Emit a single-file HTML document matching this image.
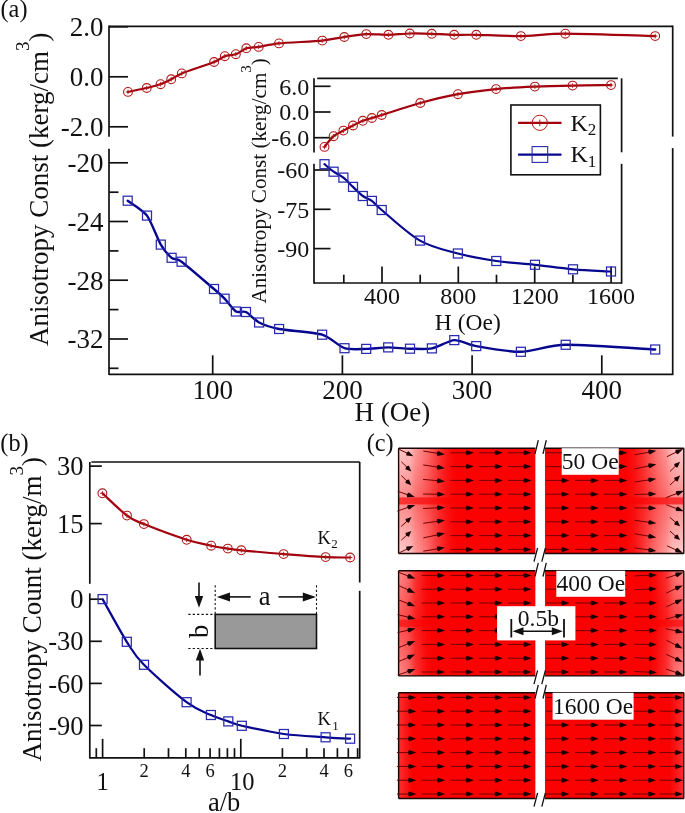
<!DOCTYPE html>
<html><head><meta charset="utf-8"><style>
html,body{margin:0;padding:0;background:#fff;}
svg{display:block;will-change:transform;}
text{font-family:"Liberation Serif", serif; fill:#111;}
</style></head><body>
<svg width="685" height="813" viewBox="0 0 685 813">
<rect width="685" height="813" fill="#fff"/>
<line x1="109.0" y1="25.5" x2="109.0" y2="136.7" stroke="#111" stroke-width="1.70"/>
<line x1="109.0" y1="148.7" x2="109.0" y2="375.1" stroke="#111" stroke-width="1.70"/>
<line x1="672.7" y1="25.5" x2="672.7" y2="136.6" stroke="#111" stroke-width="1.70"/>
<line x1="672.7" y1="148.1" x2="672.7" y2="375.1" stroke="#111" stroke-width="1.70"/>
<line x1="109.0" y1="26.3" x2="672.7" y2="26.3" stroke="#111" stroke-width="1.70"/>
<line x1="109.0" y1="374.3" x2="672.7" y2="374.3" stroke="#111" stroke-width="1.70"/>
<line x1="109.0" y1="26.8" x2="128.0" y2="26.8" stroke="#111" stroke-width="1.70"/>
<text x="103.5" y="36.1" font-size="27.0" text-anchor="end" >2.0</text>
<line x1="109.0" y1="76.8" x2="128.0" y2="76.8" stroke="#111" stroke-width="1.70"/>
<text x="103.5" y="86.1" font-size="27.0" text-anchor="end" >0.0</text>
<line x1="109.0" y1="126.8" x2="128.0" y2="126.8" stroke="#111" stroke-width="1.70"/>
<text x="103.5" y="136.1" font-size="27.0" text-anchor="end" >-2.0</text>
<line x1="109.0" y1="162.8" x2="128.0" y2="162.8" stroke="#111" stroke-width="1.70"/>
<text x="103.5" y="172.1" font-size="27.0" text-anchor="end" >-20</text>
<line x1="109.0" y1="221.5" x2="128.0" y2="221.5" stroke="#111" stroke-width="1.70"/>
<text x="103.5" y="230.8" font-size="27.0" text-anchor="end" >-24</text>
<line x1="109.0" y1="280.2" x2="128.0" y2="280.2" stroke="#111" stroke-width="1.70"/>
<text x="103.5" y="289.5" font-size="27.0" text-anchor="end" >-28</text>
<line x1="109.0" y1="339.0" x2="128.0" y2="339.0" stroke="#111" stroke-width="1.70"/>
<text x="103.5" y="348.3" font-size="27.0" text-anchor="end" >-32</text>
<line x1="109.0" y1="192.2" x2="118.5" y2="192.2" stroke="#111" stroke-width="1.70"/>
<line x1="109.0" y1="250.9" x2="118.5" y2="250.9" stroke="#111" stroke-width="1.70"/>
<line x1="109.0" y1="309.6" x2="118.5" y2="309.6" stroke="#111" stroke-width="1.70"/>
<line x1="109.0" y1="368.3" x2="118.5" y2="368.3" stroke="#111" stroke-width="1.70"/>
<line x1="212.7" y1="374.3" x2="212.7" y2="355.3" stroke="#111" stroke-width="1.70"/>
<text x="212.7" y="398.5" font-size="27.0" text-anchor="middle" >100</text>
<line x1="342.4" y1="374.3" x2="342.4" y2="355.3" stroke="#111" stroke-width="1.70"/>
<text x="342.4" y="398.5" font-size="27.0" text-anchor="middle" >200</text>
<line x1="472.1" y1="374.3" x2="472.1" y2="355.3" stroke="#111" stroke-width="1.70"/>
<text x="472.1" y="398.5" font-size="27.0" text-anchor="middle" >300</text>
<line x1="601.8" y1="374.3" x2="601.8" y2="355.3" stroke="#111" stroke-width="1.70"/>
<text x="601.8" y="398.5" font-size="27.0" text-anchor="middle" >400</text>
<text x="392.4" y="421.4" font-size="27.0" text-anchor="middle" >H (Oe)</text>
<text x="0.5" y="17.0" font-size="24.3" text-anchor="start" >(a)</text>
<text transform="translate(47.6,346) rotate(-90)" font-size="27">Anisotropy Const (kerg/cm<tspan dy="-18.5" font-size="19">3</tspan><tspan dy="18.5">)</tspan></text>
<path d="M128.0,91.9 C130.2,91.4 142.8,88.9 146.7,88.0 C150.6,87.1 157.7,85.2 160.6,84.2 C163.5,83.2 168.7,80.6 171.2,79.3 C173.7,78.0 176.7,75.5 181.8,73.4 C186.9,71.3 208.9,64.1 214.1,62.0 C219.3,59.9 222.2,57.1 224.8,56.2 C227.4,55.3 233.2,55.1 235.8,54.2 C238.4,53.3 243.6,49.2 246.3,48.3 C249.0,47.4 254.8,47.5 258.7,46.9 C262.6,46.3 271.4,44.2 279.0,43.4 C286.6,42.6 314.5,41.4 322.3,40.6 C330.1,39.8 339.0,37.8 344.3,37.0 C349.6,36.2 361.0,34.4 366.3,34.1 C371.6,33.8 383.2,34.9 388.4,34.8 C393.6,34.7 404.6,33.6 409.8,33.5 C415.0,33.4 426.5,33.6 431.8,33.8 C437.1,34.0 448.9,34.7 454.2,34.8 C459.5,34.9 468.3,34.6 476.3,34.8 C484.3,35.0 510.2,36.2 520.9,36.1 C531.6,36.0 549.2,33.7 565.3,33.7 C581.4,33.7 644.4,35.8 655.2,36.1" fill="none" stroke="#a2000e" stroke-width="2.20" stroke-linejoin="round" stroke-linecap="round"/>
<circle cx="128.0" cy="91.9" r="4.4" fill="none" stroke="#b01818" stroke-width="1.10"/>
<path d="M125.7,91.9h4.6M128.0,89.6v4.6" stroke="#b01818" stroke-width="0.9"/>
<circle cx="146.7" cy="88.0" r="4.4" fill="none" stroke="#b01818" stroke-width="1.10"/>
<path d="M144.4,88.0h4.6M146.7,85.7v4.6" stroke="#b01818" stroke-width="0.9"/>
<circle cx="160.6" cy="84.2" r="4.4" fill="none" stroke="#b01818" stroke-width="1.10"/>
<path d="M158.3,84.2h4.6M160.6,81.9v4.6" stroke="#b01818" stroke-width="0.9"/>
<circle cx="171.2" cy="79.3" r="4.4" fill="none" stroke="#b01818" stroke-width="1.10"/>
<path d="M168.9,79.3h4.6M171.2,77.0v4.6" stroke="#b01818" stroke-width="0.9"/>
<circle cx="181.8" cy="73.4" r="4.4" fill="none" stroke="#b01818" stroke-width="1.10"/>
<path d="M179.5,73.4h4.6M181.8,71.1v4.6" stroke="#b01818" stroke-width="0.9"/>
<circle cx="214.1" cy="62.0" r="4.4" fill="none" stroke="#b01818" stroke-width="1.10"/>
<path d="M211.8,62.0h4.6M214.1,59.7v4.6" stroke="#b01818" stroke-width="0.9"/>
<circle cx="224.8" cy="56.2" r="4.4" fill="none" stroke="#b01818" stroke-width="1.10"/>
<path d="M222.5,56.2h4.6M224.8,53.9v4.6" stroke="#b01818" stroke-width="0.9"/>
<circle cx="235.8" cy="54.2" r="4.4" fill="none" stroke="#b01818" stroke-width="1.10"/>
<path d="M233.5,54.2h4.6M235.8,51.9v4.6" stroke="#b01818" stroke-width="0.9"/>
<circle cx="246.3" cy="48.3" r="4.4" fill="none" stroke="#b01818" stroke-width="1.10"/>
<path d="M244.0,48.3h4.6M246.3,46.0v4.6" stroke="#b01818" stroke-width="0.9"/>
<circle cx="258.7" cy="46.9" r="4.4" fill="none" stroke="#b01818" stroke-width="1.10"/>
<path d="M256.4,46.9h4.6M258.7,44.6v4.6" stroke="#b01818" stroke-width="0.9"/>
<circle cx="279.0" cy="43.4" r="4.4" fill="none" stroke="#b01818" stroke-width="1.10"/>
<path d="M276.7,43.4h4.6M279.0,41.1v4.6" stroke="#b01818" stroke-width="0.9"/>
<circle cx="322.3" cy="40.6" r="4.4" fill="none" stroke="#b01818" stroke-width="1.10"/>
<path d="M320.0,40.6h4.6M322.3,38.3v4.6" stroke="#b01818" stroke-width="0.9"/>
<circle cx="344.3" cy="37.0" r="4.4" fill="none" stroke="#b01818" stroke-width="1.10"/>
<path d="M342.0,37.0h4.6M344.3,34.7v4.6" stroke="#b01818" stroke-width="0.9"/>
<circle cx="366.3" cy="34.1" r="4.4" fill="none" stroke="#b01818" stroke-width="1.10"/>
<path d="M364.0,34.1h4.6M366.3,31.8v4.6" stroke="#b01818" stroke-width="0.9"/>
<circle cx="388.4" cy="34.8" r="4.4" fill="none" stroke="#b01818" stroke-width="1.10"/>
<path d="M386.1,34.8h4.6M388.4,32.5v4.6" stroke="#b01818" stroke-width="0.9"/>
<circle cx="409.8" cy="33.5" r="4.4" fill="none" stroke="#b01818" stroke-width="1.10"/>
<path d="M407.5,33.5h4.6M409.8,31.2v4.6" stroke="#b01818" stroke-width="0.9"/>
<circle cx="431.8" cy="33.8" r="4.4" fill="none" stroke="#b01818" stroke-width="1.10"/>
<path d="M429.5,33.8h4.6M431.8,31.5v4.6" stroke="#b01818" stroke-width="0.9"/>
<circle cx="454.2" cy="34.8" r="4.4" fill="none" stroke="#b01818" stroke-width="1.10"/>
<path d="M451.9,34.8h4.6M454.2,32.5v4.6" stroke="#b01818" stroke-width="0.9"/>
<circle cx="476.3" cy="34.8" r="4.4" fill="none" stroke="#b01818" stroke-width="1.10"/>
<path d="M474.0,34.8h4.6M476.3,32.5v4.6" stroke="#b01818" stroke-width="0.9"/>
<circle cx="520.9" cy="36.1" r="4.4" fill="none" stroke="#b01818" stroke-width="1.10"/>
<path d="M518.6,36.1h4.6M520.9,33.8v4.6" stroke="#b01818" stroke-width="0.9"/>
<circle cx="565.3" cy="33.7" r="4.4" fill="none" stroke="#b01818" stroke-width="1.10"/>
<path d="M563.0,33.7h4.6M565.3,31.4v4.6" stroke="#b01818" stroke-width="0.9"/>
<circle cx="655.2" cy="36.1" r="4.4" fill="none" stroke="#b01818" stroke-width="1.10"/>
<path d="M652.9,36.1h4.6M655.2,33.8v4.6" stroke="#b01818" stroke-width="0.9"/>
<path d="M127.7,200.7 C130.0,202.5 143.0,210.3 147.0,215.6 C151.0,220.9 157.8,239.5 160.8,244.6 C163.8,249.7 169.1,255.7 171.6,257.8 C174.1,259.9 176.5,258.0 181.6,261.7 C186.7,265.4 208.8,284.6 214.0,289.0 C219.2,293.4 222.0,296.0 224.6,298.7 C227.2,301.4 233.3,309.9 235.9,311.5 C238.5,313.1 243.2,310.7 246.0,312.0 C248.8,313.3 255.1,320.5 259.1,322.5 C263.1,324.5 271.5,327.5 279.1,329.0 C286.7,330.5 314.3,332.4 322.1,334.7 C329.9,337.0 339.2,346.5 344.5,348.2 C349.8,349.9 361.0,349.0 366.2,348.9 C371.4,348.8 382.9,347.4 388.2,347.4 C393.5,347.4 404.8,348.6 410.0,348.7 C415.2,348.8 426.6,349.4 431.9,348.4 C437.2,347.4 449.0,340.4 454.3,340.1 C459.6,339.8 468.2,344.7 476.2,346.1 C484.2,347.5 510.2,352.0 520.9,351.8 C531.6,351.6 549.6,345.1 565.7,344.8 C581.8,344.5 644.5,348.9 655.2,349.5" fill="none" stroke="#06068f" stroke-width="2.40" stroke-linejoin="round" stroke-linecap="round"/>
<rect x="123.2" y="196.2" width="9.0" height="9.0" fill="none" stroke="#2a2ab0" stroke-width="1.25"/>
<rect x="142.5" y="211.1" width="9.0" height="9.0" fill="none" stroke="#2a2ab0" stroke-width="1.25"/>
<rect x="156.3" y="240.1" width="9.0" height="9.0" fill="none" stroke="#2a2ab0" stroke-width="1.25"/>
<rect x="167.1" y="253.3" width="9.0" height="9.0" fill="none" stroke="#2a2ab0" stroke-width="1.25"/>
<rect x="177.1" y="257.2" width="9.0" height="9.0" fill="none" stroke="#2a2ab0" stroke-width="1.25"/>
<rect x="209.5" y="284.5" width="9.0" height="9.0" fill="none" stroke="#2a2ab0" stroke-width="1.25"/>
<rect x="220.1" y="294.2" width="9.0" height="9.0" fill="none" stroke="#2a2ab0" stroke-width="1.25"/>
<rect x="231.4" y="307.0" width="9.0" height="9.0" fill="none" stroke="#2a2ab0" stroke-width="1.25"/>
<rect x="241.5" y="307.5" width="9.0" height="9.0" fill="none" stroke="#2a2ab0" stroke-width="1.25"/>
<rect x="254.6" y="318.0" width="9.0" height="9.0" fill="none" stroke="#2a2ab0" stroke-width="1.25"/>
<rect x="274.6" y="324.5" width="9.0" height="9.0" fill="none" stroke="#2a2ab0" stroke-width="1.25"/>
<rect x="317.6" y="330.2" width="9.0" height="9.0" fill="none" stroke="#2a2ab0" stroke-width="1.25"/>
<rect x="340.0" y="343.7" width="9.0" height="9.0" fill="none" stroke="#2a2ab0" stroke-width="1.25"/>
<rect x="361.7" y="344.4" width="9.0" height="9.0" fill="none" stroke="#2a2ab0" stroke-width="1.25"/>
<rect x="383.7" y="342.9" width="9.0" height="9.0" fill="none" stroke="#2a2ab0" stroke-width="1.25"/>
<rect x="405.5" y="344.2" width="9.0" height="9.0" fill="none" stroke="#2a2ab0" stroke-width="1.25"/>
<rect x="427.4" y="343.9" width="9.0" height="9.0" fill="none" stroke="#2a2ab0" stroke-width="1.25"/>
<rect x="449.8" y="335.6" width="9.0" height="9.0" fill="none" stroke="#2a2ab0" stroke-width="1.25"/>
<rect x="471.7" y="341.6" width="9.0" height="9.0" fill="none" stroke="#2a2ab0" stroke-width="1.25"/>
<rect x="516.4" y="347.3" width="9.0" height="9.0" fill="none" stroke="#2a2ab0" stroke-width="1.25"/>
<rect x="561.2" y="340.3" width="9.0" height="9.0" fill="none" stroke="#2a2ab0" stroke-width="1.25"/>
<rect x="650.7" y="345.0" width="9.0" height="9.0" fill="none" stroke="#2a2ab0" stroke-width="1.25"/>
<line x1="314.0" y1="78.3" x2="314.0" y2="152.4" stroke="#111" stroke-width="1.70"/>
<line x1="314.0" y1="163.8" x2="314.0" y2="283.8" stroke="#111" stroke-width="1.70"/>
<line x1="317.2" y1="78.3" x2="617.8" y2="78.3" stroke="#111" stroke-width="1.70"/>
<line x1="621.6" y1="78.3" x2="621.6" y2="152.3" stroke="#111" stroke-width="1.70"/>
<line x1="621.6" y1="163.8" x2="621.6" y2="283.8" stroke="#111" stroke-width="1.70"/>
<line x1="314.0" y1="283.0" x2="621.6" y2="283.0" stroke="#111" stroke-width="1.70"/>
<line x1="314.0" y1="86.3" x2="330.5" y2="86.3" stroke="#111" stroke-width="1.70"/>
<text x="309.2" y="94.5" font-size="24.0" text-anchor="end" >6.0</text>
<line x1="314.0" y1="112.0" x2="330.5" y2="112.0" stroke="#111" stroke-width="1.70"/>
<text x="309.2" y="120.2" font-size="24.0" text-anchor="end" >0.0</text>
<line x1="314.0" y1="137.7" x2="330.5" y2="137.7" stroke="#111" stroke-width="1.70"/>
<text x="309.2" y="145.9" font-size="24.0" text-anchor="end" >-6.0</text>
<line x1="314.0" y1="170.0" x2="330.5" y2="170.0" stroke="#111" stroke-width="1.70"/>
<text x="309.2" y="178.2" font-size="24.0" text-anchor="end" >-60</text>
<line x1="314.0" y1="209.3" x2="330.5" y2="209.3" stroke="#111" stroke-width="1.70"/>
<text x="309.2" y="217.5" font-size="24.0" text-anchor="end" >-75</text>
<line x1="314.0" y1="248.6" x2="330.5" y2="248.6" stroke="#111" stroke-width="1.70"/>
<text x="309.2" y="256.8" font-size="24.0" text-anchor="end" >-90</text>
<line x1="382.0" y1="283.0" x2="382.0" y2="266.5" stroke="#111" stroke-width="1.70"/>
<text x="382.0" y="303.8" font-size="24.0" text-anchor="middle" >400</text>
<line x1="458.3" y1="283.0" x2="458.3" y2="266.5" stroke="#111" stroke-width="1.70"/>
<text x="458.3" y="303.8" font-size="24.0" text-anchor="middle" >800</text>
<line x1="534.7" y1="283.0" x2="534.7" y2="266.5" stroke="#111" stroke-width="1.70"/>
<text x="534.7" y="303.8" font-size="24.0" text-anchor="middle" >1200</text>
<line x1="611.1" y1="283.0" x2="611.1" y2="266.5" stroke="#111" stroke-width="1.70"/>
<text x="611.1" y="303.8" font-size="24.0" text-anchor="middle" >1600</text>
<line x1="343.8" y1="283.0" x2="343.8" y2="274.7" stroke="#111" stroke-width="1.70"/>
<line x1="420.2" y1="283.0" x2="420.2" y2="274.7" stroke="#111" stroke-width="1.70"/>
<line x1="496.5" y1="283.0" x2="496.5" y2="274.7" stroke="#111" stroke-width="1.70"/>
<line x1="572.9" y1="283.0" x2="572.9" y2="274.7" stroke="#111" stroke-width="1.70"/>
<text x="467.8" y="330.2" font-size="23.5" text-anchor="middle" >H (Oe)</text>
<text transform="translate(265.8,303.6) rotate(-90)" font-size="21.15">Anisotropy Const (kerg/cm<tspan dy="-14.5" font-size="15">3</tspan><tspan dy="14.5">)</tspan></text>
<path d="M324.5,146.9 C326.0,145.1 330.5,138.9 333.6,136.2 C336.8,133.5 340.2,132.4 343.4,130.6 C346.6,128.8 349.8,127.1 353.0,125.5 C356.2,123.9 359.7,122.0 362.8,120.8 C365.9,119.5 368.8,119.0 371.9,118.0 C375.0,117.0 373.6,117.5 381.7,115.0 C389.8,112.5 407.6,106.5 420.3,103.0 C433.0,99.5 445.3,96.5 457.9,94.2 C470.5,91.9 483.3,90.4 496.1,89.1 C508.9,87.8 522.1,87.2 534.9,86.6 C547.6,86.0 559.9,85.8 572.6,85.6 C585.3,85.3 604.6,85.2 611.0,85.1" fill="none" stroke="#a2000e" stroke-width="2.20" stroke-linejoin="round" stroke-linecap="round"/>
<circle cx="324.5" cy="146.9" r="4.4" fill="none" stroke="#b01818" stroke-width="1.10"/>
<path d="M322.2,146.9h4.6M324.5,144.6v4.6" stroke="#b01818" stroke-width="0.9"/>
<circle cx="333.6" cy="136.2" r="4.4" fill="none" stroke="#b01818" stroke-width="1.10"/>
<path d="M331.3,136.2h4.6M333.6,133.9v4.6" stroke="#b01818" stroke-width="0.9"/>
<circle cx="343.4" cy="130.6" r="4.4" fill="none" stroke="#b01818" stroke-width="1.10"/>
<path d="M341.1,130.6h4.6M343.4,128.3v4.6" stroke="#b01818" stroke-width="0.9"/>
<circle cx="353.0" cy="125.5" r="4.4" fill="none" stroke="#b01818" stroke-width="1.10"/>
<path d="M350.7,125.5h4.6M353.0,123.2v4.6" stroke="#b01818" stroke-width="0.9"/>
<circle cx="362.8" cy="120.8" r="4.4" fill="none" stroke="#b01818" stroke-width="1.10"/>
<path d="M360.5,120.8h4.6M362.8,118.5v4.6" stroke="#b01818" stroke-width="0.9"/>
<circle cx="371.9" cy="118.0" r="4.4" fill="none" stroke="#b01818" stroke-width="1.10"/>
<path d="M369.6,118.0h4.6M371.9,115.7v4.6" stroke="#b01818" stroke-width="0.9"/>
<circle cx="381.7" cy="115.0" r="4.4" fill="none" stroke="#b01818" stroke-width="1.10"/>
<path d="M379.4,115.0h4.6M381.7,112.7v4.6" stroke="#b01818" stroke-width="0.9"/>
<circle cx="420.3" cy="103.0" r="4.4" fill="none" stroke="#b01818" stroke-width="1.10"/>
<path d="M418.0,103.0h4.6M420.3,100.7v4.6" stroke="#b01818" stroke-width="0.9"/>
<circle cx="457.9" cy="94.2" r="4.4" fill="none" stroke="#b01818" stroke-width="1.10"/>
<path d="M455.6,94.2h4.6M457.9,91.9v4.6" stroke="#b01818" stroke-width="0.9"/>
<circle cx="496.1" cy="89.1" r="4.4" fill="none" stroke="#b01818" stroke-width="1.10"/>
<path d="M493.8,89.1h4.6M496.1,86.8v4.6" stroke="#b01818" stroke-width="0.9"/>
<circle cx="534.9" cy="86.6" r="4.4" fill="none" stroke="#b01818" stroke-width="1.10"/>
<path d="M532.6,86.6h4.6M534.9,84.3v4.6" stroke="#b01818" stroke-width="0.9"/>
<circle cx="572.6" cy="85.6" r="4.4" fill="none" stroke="#b01818" stroke-width="1.10"/>
<path d="M570.3,85.6h4.6M572.6,83.3v4.6" stroke="#b01818" stroke-width="0.9"/>
<circle cx="611.0" cy="85.1" r="4.4" fill="none" stroke="#b01818" stroke-width="1.10"/>
<path d="M608.7,85.1h4.6M611.0,82.8v4.6" stroke="#b01818" stroke-width="0.9"/>
<path d="M324.5,164.2 C326.0,165.4 330.5,169.5 333.6,171.7 C336.8,173.9 340.2,175.1 343.4,177.6 C346.6,180.1 349.8,183.8 353.0,186.9 C356.2,190.0 359.7,193.7 362.8,196.0 C365.9,198.3 368.8,198.6 371.9,200.9 C375.0,203.2 373.7,203.4 381.7,210.0 C389.7,216.6 407.3,233.3 420.0,240.6 C432.7,247.8 445.2,250.1 457.9,253.5 C470.6,256.9 483.4,259.1 496.3,261.0 C509.2,262.9 522.2,263.4 535.0,264.8 C547.8,266.2 560.3,268.2 573.0,269.3 C585.7,270.4 604.7,271.1 611.0,271.5" fill="none" stroke="#06068f" stroke-width="2.20" stroke-linejoin="round" stroke-linecap="round"/>
<rect x="320.0" y="159.7" width="9.0" height="9.0" fill="none" stroke="#2a2ab0" stroke-width="1.25"/>
<rect x="329.1" y="167.2" width="9.0" height="9.0" fill="none" stroke="#2a2ab0" stroke-width="1.25"/>
<rect x="338.9" y="173.1" width="9.0" height="9.0" fill="none" stroke="#2a2ab0" stroke-width="1.25"/>
<rect x="348.5" y="182.4" width="9.0" height="9.0" fill="none" stroke="#2a2ab0" stroke-width="1.25"/>
<rect x="358.3" y="191.5" width="9.0" height="9.0" fill="none" stroke="#2a2ab0" stroke-width="1.25"/>
<rect x="367.4" y="196.4" width="9.0" height="9.0" fill="none" stroke="#2a2ab0" stroke-width="1.25"/>
<rect x="377.2" y="205.5" width="9.0" height="9.0" fill="none" stroke="#2a2ab0" stroke-width="1.25"/>
<rect x="415.5" y="236.1" width="9.0" height="9.0" fill="none" stroke="#2a2ab0" stroke-width="1.25"/>
<rect x="453.4" y="249.0" width="9.0" height="9.0" fill="none" stroke="#2a2ab0" stroke-width="1.25"/>
<rect x="491.8" y="256.5" width="9.0" height="9.0" fill="none" stroke="#2a2ab0" stroke-width="1.25"/>
<rect x="530.5" y="260.3" width="9.0" height="9.0" fill="none" stroke="#2a2ab0" stroke-width="1.25"/>
<rect x="568.5" y="264.8" width="9.0" height="9.0" fill="none" stroke="#2a2ab0" stroke-width="1.25"/>
<rect x="606.5" y="267.0" width="9.0" height="9.0" fill="none" stroke="#2a2ab0" stroke-width="1.25"/>
<rect x="510.9" y="105.0" width="89.5" height="69.8" fill="#fff" stroke="#111" stroke-width="1.6"/>
<line x1="518.1" y1="122.8" x2="561.5" y2="122.8" stroke="#a2000e" stroke-width="2.20"/>
<circle cx="539.8" cy="122.8" r="7.6" fill="none" stroke="#b01818" stroke-width="1"/>
<line x1="539.8" y1="119.5" x2="539.8" y2="126.1" stroke="#b01818" stroke-width="1.00"/>
<line x1="518.1" y1="154.7" x2="561.5" y2="154.7" stroke="#06068f" stroke-width="2.20"/>
<rect x="532.1" y="146.6" width="15.6" height="15.8" fill="none" stroke="#2a2ab0" stroke-width="1.1"/>
<text x="570.5" y="130.6" font-size="24.0" text-anchor="start" >K<tspan font-size="17" dy="4.5">2</tspan></text>
<text x="570.5" y="162.1" font-size="24.0" text-anchor="start" >K<tspan font-size="17" dy="4.5">1</tspan></text>
<line x1="89.8" y1="462.0" x2="89.8" y2="583.8" stroke="#111" stroke-width="1.70"/>
<line x1="89.8" y1="593.3" x2="89.8" y2="758.6" stroke="#111" stroke-width="1.70"/>
<line x1="91.4" y1="462.0" x2="359.7" y2="462.0" stroke="#111" stroke-width="1.70"/>
<line x1="359.7" y1="462.0" x2="359.7" y2="582.5" stroke="#111" stroke-width="1.70"/>
<line x1="359.7" y1="590.8" x2="359.7" y2="758.6" stroke="#111" stroke-width="1.70"/>
<line x1="89.8" y1="757.8" x2="359.7" y2="757.8" stroke="#111" stroke-width="1.70"/>
<line x1="89.8" y1="466.1" x2="101.8" y2="466.1" stroke="#111" stroke-width="1.70"/>
<text x="83.5" y="475.2" font-size="26.5" text-anchor="end" >30</text>
<line x1="89.8" y1="523.6" x2="101.8" y2="523.6" stroke="#111" stroke-width="1.70"/>
<text x="83.5" y="532.7" font-size="26.5" text-anchor="end" >15</text>
<line x1="89.8" y1="599.2" x2="101.8" y2="599.2" stroke="#111" stroke-width="1.70"/>
<text x="83.5" y="608.3" font-size="26.5" text-anchor="end" >0</text>
<line x1="89.8" y1="641.3" x2="101.8" y2="641.3" stroke="#111" stroke-width="1.70"/>
<text x="83.5" y="650.4" font-size="26.5" text-anchor="end" >-30</text>
<line x1="89.8" y1="683.4" x2="101.8" y2="683.4" stroke="#111" stroke-width="1.70"/>
<text x="83.5" y="692.5" font-size="26.5" text-anchor="end" >-60</text>
<line x1="89.8" y1="725.5" x2="101.8" y2="725.5" stroke="#111" stroke-width="1.70"/>
<text x="83.5" y="734.6" font-size="26.5" text-anchor="end" >-90</text>
<line x1="102.6" y1="757.8" x2="102.6" y2="738.8" stroke="#111" stroke-width="1.70"/>
<line x1="240.8" y1="757.8" x2="240.8" y2="738.8" stroke="#111" stroke-width="1.70"/>
<line x1="96.3" y1="757.8" x2="96.3" y2="748.2" stroke="#111" stroke-width="1.70"/>
<line x1="144.2" y1="757.8" x2="144.2" y2="748.2" stroke="#111" stroke-width="1.70"/>
<line x1="168.5" y1="757.8" x2="168.5" y2="748.2" stroke="#111" stroke-width="1.70"/>
<line x1="185.8" y1="757.8" x2="185.8" y2="748.2" stroke="#111" stroke-width="1.70"/>
<line x1="199.2" y1="757.8" x2="199.2" y2="748.2" stroke="#111" stroke-width="1.70"/>
<line x1="210.1" y1="757.8" x2="210.1" y2="748.2" stroke="#111" stroke-width="1.70"/>
<line x1="219.4" y1="757.8" x2="219.4" y2="748.2" stroke="#111" stroke-width="1.70"/>
<line x1="227.4" y1="757.8" x2="227.4" y2="748.2" stroke="#111" stroke-width="1.70"/>
<line x1="234.5" y1="757.8" x2="234.5" y2="748.2" stroke="#111" stroke-width="1.70"/>
<line x1="282.4" y1="757.8" x2="282.4" y2="748.2" stroke="#111" stroke-width="1.70"/>
<line x1="306.7" y1="757.8" x2="306.7" y2="748.2" stroke="#111" stroke-width="1.70"/>
<line x1="324.0" y1="757.8" x2="324.0" y2="748.2" stroke="#111" stroke-width="1.70"/>
<line x1="337.4" y1="757.8" x2="337.4" y2="748.2" stroke="#111" stroke-width="1.70"/>
<line x1="348.3" y1="757.8" x2="348.3" y2="748.2" stroke="#111" stroke-width="1.70"/>
<line x1="357.6" y1="757.8" x2="357.6" y2="748.2" stroke="#111" stroke-width="1.70"/>
<text x="102.6" y="790.2" font-size="24.5" text-anchor="middle" >1</text>
<text x="242.3" y="789.7" font-size="24.5" text-anchor="middle" >10</text>
<text x="144.2" y="776.9" font-size="18.5" text-anchor="middle" >2</text>
<text x="185.8" y="776.9" font-size="18.5" text-anchor="middle" >4</text>
<text x="210.1" y="776.9" font-size="18.5" text-anchor="middle" >6</text>
<text x="282.4" y="776.9" font-size="18.5" text-anchor="middle" >2</text>
<text x="324.0" y="776.9" font-size="18.5" text-anchor="middle" >4</text>
<text x="348.3" y="776.9" font-size="18.5" text-anchor="middle" >6</text>
<text x="224.2" y="810.8" font-size="26.5" text-anchor="middle" >a/b</text>
<text x="0.3" y="451.0" font-size="24.3" text-anchor="start" >(b)</text>
<text transform="translate(41.2,761.5) rotate(-90)" font-size="27">Anisotropy Count (kerg/m<tspan dy="-18.5" font-size="19">3</tspan><tspan dy="18.5">)</tspan></text>
<path d="M102.4,493.3 C106.5,497.0 120.1,510.5 127.0,515.6 C133.9,520.7 134.0,520.1 143.9,524.1 C153.8,528.1 175.5,536.2 186.7,539.8 C197.9,543.4 204.3,544.2 211.2,545.7 C218.0,547.2 222.8,547.8 227.8,548.6 C232.8,549.4 232.0,549.4 241.3,550.3 C250.6,551.2 269.6,553.0 283.6,554.1 C297.7,555.2 314.5,556.5 325.6,557.1 C336.7,557.7 346.0,557.4 350.1,557.5" fill="none" stroke="#a2000e" stroke-width="2.20" stroke-linejoin="round" stroke-linecap="round"/>
<circle cx="102.4" cy="493.3" r="4.4" fill="none" stroke="#b01818" stroke-width="1.10"/>
<path d="M100.1,493.3h4.6M102.4,491.0v4.6" stroke="#b01818" stroke-width="0.9"/>
<circle cx="127.0" cy="515.6" r="4.4" fill="none" stroke="#b01818" stroke-width="1.10"/>
<path d="M124.7,515.6h4.6M127.0,513.3v4.6" stroke="#b01818" stroke-width="0.9"/>
<circle cx="143.9" cy="524.1" r="4.4" fill="none" stroke="#b01818" stroke-width="1.10"/>
<path d="M141.6,524.1h4.6M143.9,521.8v4.6" stroke="#b01818" stroke-width="0.9"/>
<circle cx="186.7" cy="539.8" r="4.4" fill="none" stroke="#b01818" stroke-width="1.10"/>
<path d="M184.4,539.8h4.6M186.7,537.5v4.6" stroke="#b01818" stroke-width="0.9"/>
<circle cx="211.2" cy="545.7" r="4.4" fill="none" stroke="#b01818" stroke-width="1.10"/>
<path d="M208.9,545.7h4.6M211.2,543.4v4.6" stroke="#b01818" stroke-width="0.9"/>
<circle cx="227.8" cy="548.6" r="4.4" fill="none" stroke="#b01818" stroke-width="1.10"/>
<path d="M225.5,548.6h4.6M227.8,546.3v4.6" stroke="#b01818" stroke-width="0.9"/>
<circle cx="241.3" cy="550.3" r="4.4" fill="none" stroke="#b01818" stroke-width="1.10"/>
<path d="M239.0,550.3h4.6M241.3,548.0v4.6" stroke="#b01818" stroke-width="0.9"/>
<circle cx="283.6" cy="554.1" r="4.4" fill="none" stroke="#b01818" stroke-width="1.10"/>
<path d="M281.3,554.1h4.6M283.6,551.8v4.6" stroke="#b01818" stroke-width="0.9"/>
<circle cx="325.6" cy="557.1" r="4.4" fill="none" stroke="#b01818" stroke-width="1.10"/>
<path d="M323.3,557.1h4.6M325.6,554.8v4.6" stroke="#b01818" stroke-width="0.9"/>
<circle cx="350.1" cy="557.5" r="4.4" fill="none" stroke="#b01818" stroke-width="1.10"/>
<path d="M347.8,557.5h4.6M350.1,555.2v4.6" stroke="#b01818" stroke-width="0.9"/>
<path d="M102.6,599.1 C106.6,606.2 119.9,630.8 126.8,641.8 C133.7,652.8 134.0,654.7 144.0,664.8 C154.0,674.9 175.4,693.8 186.6,702.2 C197.8,710.6 203.9,711.8 210.9,715.0 C217.9,718.2 223.2,719.6 228.3,721.4 C233.5,723.2 232.5,723.7 241.8,725.8 C251.1,727.9 269.9,732.1 283.9,734.0 C297.9,735.9 314.6,736.5 325.6,737.3 C336.6,738.1 346.0,738.5 350.1,738.7" fill="none" stroke="#06068f" stroke-width="2.20" stroke-linejoin="round" stroke-linecap="round"/>
<rect x="98.1" y="594.6" width="9.0" height="9.0" fill="none" stroke="#2a2ab0" stroke-width="1.25"/>
<rect x="122.3" y="637.3" width="9.0" height="9.0" fill="none" stroke="#2a2ab0" stroke-width="1.25"/>
<rect x="139.5" y="660.3" width="9.0" height="9.0" fill="none" stroke="#2a2ab0" stroke-width="1.25"/>
<rect x="182.1" y="697.7" width="9.0" height="9.0" fill="none" stroke="#2a2ab0" stroke-width="1.25"/>
<rect x="206.4" y="710.5" width="9.0" height="9.0" fill="none" stroke="#2a2ab0" stroke-width="1.25"/>
<rect x="223.8" y="716.9" width="9.0" height="9.0" fill="none" stroke="#2a2ab0" stroke-width="1.25"/>
<rect x="237.3" y="721.3" width="9.0" height="9.0" fill="none" stroke="#2a2ab0" stroke-width="1.25"/>
<rect x="279.4" y="729.5" width="9.0" height="9.0" fill="none" stroke="#2a2ab0" stroke-width="1.25"/>
<rect x="321.1" y="732.8" width="9.0" height="9.0" fill="none" stroke="#2a2ab0" stroke-width="1.25"/>
<rect x="345.6" y="734.2" width="9.0" height="9.0" fill="none" stroke="#2a2ab0" stroke-width="1.25"/>
<text x="317.4" y="544.0" font-size="18.5" text-anchor="start" >K<tspan font-size="13" dx="0.5" dy="4.2">2</tspan></text>
<text x="317.4" y="725.0" font-size="18.5" text-anchor="start" >K<tspan font-size="13" dx="1.5" dy="4.5">1</tspan></text>
<rect x="215.2" y="614.4" width="101.3" height="34.1" fill="#999" stroke="#111" stroke-width="1.6"/>
<path d="M215.2,585.3V614M316.5,585.3V614M188.3,614.4H215M188.3,648.5H215" stroke="#111" stroke-width="1.1" stroke-dasharray="2.2,2.2" fill="none"/>
<line x1="224.0" y1="596.9" x2="250.7" y2="596.9" stroke="#111" stroke-width="1.60"/>
<path d="M216.8,596.9 L230,592.4 L230,601.4 Z" fill="#111"/>
<line x1="278.5" y1="596.9" x2="308.0" y2="596.9" stroke="#111" stroke-width="1.60"/>
<path d="M316.0,596.9 L302.8,592.4 L302.8,601.4 Z" fill="#111"/>
<text x="264.6" y="604.5" font-size="26.5" text-anchor="middle" >a</text>
<line x1="199.0" y1="582.5" x2="199.0" y2="600.0" stroke="#111" stroke-width="1.60"/>
<path d="M199.0,607.8 L194.8,596 L203.2,596 Z" fill="#111"/>
<line x1="200.0" y1="656.0" x2="200.0" y2="675.4" stroke="#111" stroke-width="1.60"/>
<path d="M200.0,648.8 L195.8,660.6 L204.2,660.6 Z" fill="#111"/>
<text transform="translate(207.8,631.4) rotate(-90)" font-size="26.5" text-anchor="middle">b</text>
<text x="366.7" y="451.0" font-size="24.3" text-anchor="start" >(c)</text>
<defs>
<linearGradient id="g1L" x1="0" x2="1" y1="0" y2="0"><stop offset="0.000" stop-color="#fff" stop-opacity="0.80"/><stop offset="0.200" stop-color="#fff" stop-opacity="0.74"/><stop offset="0.300" stop-color="#fff" stop-opacity="0.60"/><stop offset="0.500" stop-color="#fff" stop-opacity="0.42"/><stop offset="0.700" stop-color="#fff" stop-opacity="0.20"/><stop offset="0.850" stop-color="#fff" stop-opacity="0.07"/><stop offset="1.000" stop-color="#fff" stop-opacity="0.00"/></linearGradient>
<linearGradient id="g1R" x1="0" x2="1" y1="0" y2="0"><stop offset="0.000" stop-color="#fff" stop-opacity="0.00"/><stop offset="0.150" stop-color="#fff" stop-opacity="0.07"/><stop offset="0.300" stop-color="#fff" stop-opacity="0.20"/><stop offset="0.500" stop-color="#fff" stop-opacity="0.42"/><stop offset="0.700" stop-color="#fff" stop-opacity="0.60"/><stop offset="0.800" stop-color="#fff" stop-opacity="0.74"/><stop offset="1.000" stop-color="#fff" stop-opacity="0.80"/></linearGradient>
<linearGradient id="g2L" x1="0" x2="1" y1="0" y2="0"><stop offset="0.000" stop-color="#fff" stop-opacity="0.55"/><stop offset="0.300" stop-color="#fff" stop-opacity="0.42"/><stop offset="0.500" stop-color="#fff" stop-opacity="0.20"/><stop offset="0.800" stop-color="#fff" stop-opacity="0.05"/><stop offset="1.000" stop-color="#fff" stop-opacity="0.00"/></linearGradient>
<linearGradient id="g2R" x1="0" x2="1" y1="0" y2="0"><stop offset="0.000" stop-color="#fff" stop-opacity="0.00"/><stop offset="0.200" stop-color="#fff" stop-opacity="0.05"/><stop offset="0.500" stop-color="#fff" stop-opacity="0.20"/><stop offset="0.700" stop-color="#fff" stop-opacity="0.42"/><stop offset="1.000" stop-color="#fff" stop-opacity="0.55"/></linearGradient>
<linearGradient id="g3L" x1="0" x2="1" y1="0" y2="0"><stop offset="0.000" stop-color="#fff" stop-opacity="0.18"/><stop offset="1.000" stop-color="#fff" stop-opacity="0.00"/></linearGradient>
<linearGradient id="g3R" x1="0" x2="1" y1="0" y2="0"><stop offset="0.000" stop-color="#fff" stop-opacity="0.00"/><stop offset="1.000" stop-color="#fff" stop-opacity="0.18"/></linearGradient>
</defs>
<rect x="398.6" y="448.2" width="137.0" height="105.3" fill="#fa0202"/>
<rect x="544.8" y="448.2" width="139.0" height="105.3" fill="#fa0202"/>
<linearGradient id="mk1_g" x1="0" y1="0" x2="0" y2="1"><stop offset="0.000" stop-color="#fff" stop-opacity="1.00"/><stop offset="0.459" stop-color="#fff" stop-opacity="0.72"/><stop offset="0.474" stop-color="#fff" stop-opacity="0.25"/><stop offset="0.526" stop-color="#fff" stop-opacity="0.25"/><stop offset="0.541" stop-color="#fff" stop-opacity="0.72"/><stop offset="1.000" stop-color="#fff" stop-opacity="1.00"/></linearGradient>
<mask id="mk1" maskUnits="userSpaceOnUse" x="390" y="448.2" width="300" height="105.3"><rect x="390" y="448.2" width="300" height="105.3" fill="url(#mk1_g)"/></mask>
<rect x="398.6" y="448.2" width="58.0" height="105.3" fill="url(#g1L)" mask="url(#mk1)"/>
<rect x="625.8" y="448.2" width="58.0" height="105.3" fill="url(#g1R)" mask="url(#mk1)"/>
<path d="M398.6,448.2H535.6M398.6,553.5H535.6M398.6,448.2V553.5" stroke="#1a0505" stroke-width="1.4" fill="none"/>
<path d="M544.8,448.2H683.8M544.8,553.5H683.8M683.8,448.2V553.5" stroke="#1a0505" stroke-width="1.4" fill="none"/>
<line x1="399.2" y1="449.4" x2="407.4" y2="453.3" stroke="#700000" stroke-width="1.0"/>
<path d="M413.4,456.2L406.4,455.6Q405.6,452.5 408.6,451.2L413.4,456.2Z" fill="#1a0000"/>
<line x1="401.3" y1="461.7" x2="407.2" y2="467.5" stroke="#700000" stroke-width="1.0"/>
<path d="M411.3,471.5L405.4,469.2Q405.8,466.1 408.9,465.7L411.3,471.5Z" fill="#1a0000"/>
<line x1="401.3" y1="475.5" x2="407.2" y2="481.3" stroke="#700000" stroke-width="1.0"/>
<path d="M411.3,485.3L405.4,483.0Q405.8,479.9 408.9,479.5L411.3,485.3Z" fill="#1a0000"/>
<line x1="397.8" y1="491.3" x2="407.7" y2="494.7" stroke="#700000" stroke-width="1.0"/>
<path d="M414.8,497.1L407.3,497.2Q405.8,494.0 408.9,492.4L414.8,497.1Z" fill="#1a0000"/>
<line x1="397.3" y1="511.1" x2="408.2" y2="507.3" stroke="#700000" stroke-width="1.0"/>
<path d="M415.3,504.9L409.4,509.6Q406.3,508.0 407.7,504.9L415.3,504.9Z" fill="#1a0000"/>
<line x1="401.1" y1="526.5" x2="407.3" y2="520.9" stroke="#700000" stroke-width="1.0"/>
<path d="M411.5,517.1L408.9,522.8Q405.8,522.3 405.5,519.1L411.5,517.1Z" fill="#1a0000"/>
<line x1="401.3" y1="540.1" x2="407.3" y2="534.7" stroke="#700000" stroke-width="1.0"/>
<path d="M411.3,531.1L408.9,536.7Q405.8,536.1 405.5,533.0L411.3,531.1Z" fill="#1a0000"/>
<line x1="399.3" y1="552.8" x2="407.4" y2="548.9" stroke="#700000" stroke-width="1.0"/>
<path d="M413.3,546.0L408.6,551.0Q405.6,549.7 406.4,546.6L413.3,546.0Z" fill="#1a0000"/>
<line x1="423.3" y1="451.0" x2="437.6" y2="453.4" stroke="#700000" stroke-width="1.0"/>
<path d="M444.9,454.6L437.5,455.9Q435.6,453.0 438.3,451.0L444.9,454.6Z" fill="#1a0000"/>
<line x1="423.2" y1="464.9" x2="437.6" y2="467.1" stroke="#700000" stroke-width="1.0"/>
<path d="M445.0,468.3L437.5,469.7Q435.6,466.8 438.3,464.7L445.0,468.3Z" fill="#1a0000"/>
<line x1="423.1" y1="479.4" x2="437.6" y2="480.7" stroke="#700000" stroke-width="1.0"/>
<path d="M445.1,481.4L437.7,483.2Q435.6,480.5 438.2,478.2L445.1,481.4Z" fill="#1a0000"/>
<line x1="423.1" y1="494.0" x2="437.6" y2="494.3" stroke="#700000" stroke-width="1.0"/>
<path d="M445.1,494.4L437.9,496.8Q435.6,494.2 438.0,491.8L445.1,494.4Z" fill="#1a0000"/>
<line x1="423.1" y1="508.5" x2="437.6" y2="507.8" stroke="#700000" stroke-width="1.0"/>
<path d="M445.1,507.5L438.1,510.3Q435.6,507.9 437.9,505.3L445.1,507.5Z" fill="#1a0000"/>
<line x1="423.2" y1="523.3" x2="437.6" y2="521.3" stroke="#700000" stroke-width="1.0"/>
<path d="M445.0,520.3L438.3,523.7Q435.6,521.6 437.6,518.8L445.0,520.3Z" fill="#1a0000"/>
<line x1="423.3" y1="537.9" x2="437.5" y2="534.9" stroke="#700000" stroke-width="1.0"/>
<path d="M444.9,533.3L438.4,537.2Q435.6,535.3 437.4,532.3L444.9,533.3Z" fill="#1a0000"/>
<line x1="423.3" y1="551.2" x2="437.6" y2="548.8" stroke="#700000" stroke-width="1.0"/>
<path d="M444.9,547.6L438.3,551.2Q435.6,549.2 437.5,546.3L444.9,547.6Z" fill="#1a0000"/>
<line x1="450.5" y1="452.8" x2="466.5" y2="452.8" stroke="#700000" stroke-width="1.0"/>
<path d="M474.0,452.8L466.9,455.3Q464.5,452.8 466.9,450.3L474.0,452.8Z" fill="#1a0000"/>
<line x1="450.5" y1="466.6" x2="466.5" y2="466.6" stroke="#700000" stroke-width="1.0"/>
<path d="M474.0,466.6L466.9,469.1Q464.5,466.6 466.9,464.1L474.0,466.6Z" fill="#1a0000"/>
<line x1="450.5" y1="480.4" x2="466.5" y2="480.4" stroke="#700000" stroke-width="1.0"/>
<path d="M474.0,480.4L466.9,482.9Q464.5,480.4 466.9,477.9L474.0,480.4Z" fill="#1a0000"/>
<line x1="450.5" y1="494.2" x2="466.5" y2="494.2" stroke="#700000" stroke-width="1.0"/>
<path d="M474.0,494.2L466.9,496.7Q464.5,494.2 466.9,491.7L474.0,494.2Z" fill="#1a0000"/>
<line x1="450.5" y1="508.0" x2="466.5" y2="508.0" stroke="#700000" stroke-width="1.0"/>
<path d="M474.0,508.0L466.9,510.5Q464.5,508.0 466.9,505.5L474.0,508.0Z" fill="#1a0000"/>
<line x1="450.5" y1="521.8" x2="466.5" y2="521.8" stroke="#700000" stroke-width="1.0"/>
<path d="M474.0,521.8L466.9,524.3Q464.5,521.8 466.9,519.3L474.0,521.8Z" fill="#1a0000"/>
<line x1="450.5" y1="535.6" x2="466.5" y2="535.6" stroke="#700000" stroke-width="1.0"/>
<path d="M474.0,535.6L466.9,538.1Q464.5,535.6 466.9,533.1L474.0,535.6Z" fill="#1a0000"/>
<line x1="450.5" y1="549.4" x2="466.5" y2="549.4" stroke="#700000" stroke-width="1.0"/>
<path d="M474.0,549.4L466.9,551.9Q464.5,549.4 466.9,546.9L474.0,549.4Z" fill="#1a0000"/>
<line x1="479.3" y1="452.8" x2="495.3" y2="452.8" stroke="#700000" stroke-width="1.0"/>
<path d="M502.8,452.8L495.7,455.3Q493.3,452.8 495.7,450.3L502.8,452.8Z" fill="#1a0000"/>
<line x1="479.3" y1="466.6" x2="495.3" y2="466.6" stroke="#700000" stroke-width="1.0"/>
<path d="M502.8,466.6L495.7,469.1Q493.3,466.6 495.7,464.1L502.8,466.6Z" fill="#1a0000"/>
<line x1="479.3" y1="480.4" x2="495.3" y2="480.4" stroke="#700000" stroke-width="1.0"/>
<path d="M502.8,480.4L495.7,482.9Q493.3,480.4 495.7,477.9L502.8,480.4Z" fill="#1a0000"/>
<line x1="479.3" y1="494.2" x2="495.3" y2="494.2" stroke="#700000" stroke-width="1.0"/>
<path d="M502.8,494.2L495.7,496.7Q493.3,494.2 495.7,491.7L502.8,494.2Z" fill="#1a0000"/>
<line x1="479.3" y1="508.0" x2="495.3" y2="508.0" stroke="#700000" stroke-width="1.0"/>
<path d="M502.8,508.0L495.7,510.5Q493.3,508.0 495.7,505.5L502.8,508.0Z" fill="#1a0000"/>
<line x1="479.3" y1="521.8" x2="495.3" y2="521.8" stroke="#700000" stroke-width="1.0"/>
<path d="M502.8,521.8L495.7,524.3Q493.3,521.8 495.7,519.3L502.8,521.8Z" fill="#1a0000"/>
<line x1="479.3" y1="535.6" x2="495.3" y2="535.6" stroke="#700000" stroke-width="1.0"/>
<path d="M502.8,535.6L495.7,538.1Q493.3,535.6 495.7,533.1L502.8,535.6Z" fill="#1a0000"/>
<line x1="479.3" y1="549.4" x2="495.3" y2="549.4" stroke="#700000" stroke-width="1.0"/>
<path d="M502.8,549.4L495.7,551.9Q493.3,549.4 495.7,546.9L502.8,549.4Z" fill="#1a0000"/>
<line x1="508.1" y1="452.8" x2="524.1" y2="452.8" stroke="#700000" stroke-width="1.0"/>
<path d="M531.6,452.8L524.5,455.3Q522.1,452.8 524.5,450.3L531.6,452.8Z" fill="#1a0000"/>
<line x1="508.1" y1="466.6" x2="524.1" y2="466.6" stroke="#700000" stroke-width="1.0"/>
<path d="M531.6,466.6L524.5,469.1Q522.1,466.6 524.5,464.1L531.6,466.6Z" fill="#1a0000"/>
<line x1="508.1" y1="480.4" x2="524.1" y2="480.4" stroke="#700000" stroke-width="1.0"/>
<path d="M531.6,480.4L524.5,482.9Q522.1,480.4 524.5,477.9L531.6,480.4Z" fill="#1a0000"/>
<line x1="508.1" y1="494.2" x2="524.1" y2="494.2" stroke="#700000" stroke-width="1.0"/>
<path d="M531.6,494.2L524.5,496.7Q522.1,494.2 524.5,491.7L531.6,494.2Z" fill="#1a0000"/>
<line x1="508.1" y1="508.0" x2="524.1" y2="508.0" stroke="#700000" stroke-width="1.0"/>
<path d="M531.6,508.0L524.5,510.5Q522.1,508.0 524.5,505.5L531.6,508.0Z" fill="#1a0000"/>
<line x1="508.1" y1="521.8" x2="524.1" y2="521.8" stroke="#700000" stroke-width="1.0"/>
<path d="M531.6,521.8L524.5,524.3Q522.1,521.8 524.5,519.3L531.6,521.8Z" fill="#1a0000"/>
<line x1="508.1" y1="535.6" x2="524.1" y2="535.6" stroke="#700000" stroke-width="1.0"/>
<path d="M531.6,535.6L524.5,538.1Q522.1,535.6 524.5,533.1L531.6,535.6Z" fill="#1a0000"/>
<line x1="508.1" y1="549.4" x2="524.1" y2="549.4" stroke="#700000" stroke-width="1.0"/>
<path d="M531.6,549.4L524.5,551.9Q522.1,549.4 524.5,546.9L531.6,549.4Z" fill="#1a0000"/>
<line x1="546.0" y1="452.8" x2="562.0" y2="452.8" stroke="#700000" stroke-width="1.0"/>
<path d="M569.5,452.8L562.4,455.3Q560.0,452.8 562.4,450.3L569.5,452.8Z" fill="#1a0000"/>
<line x1="546.0" y1="466.6" x2="562.0" y2="466.6" stroke="#700000" stroke-width="1.0"/>
<path d="M569.5,466.6L562.4,469.1Q560.0,466.6 562.4,464.1L569.5,466.6Z" fill="#1a0000"/>
<line x1="546.0" y1="480.4" x2="562.0" y2="480.4" stroke="#700000" stroke-width="1.0"/>
<path d="M569.5,480.4L562.4,482.9Q560.0,480.4 562.4,477.9L569.5,480.4Z" fill="#1a0000"/>
<line x1="546.0" y1="494.2" x2="562.0" y2="494.2" stroke="#700000" stroke-width="1.0"/>
<path d="M569.5,494.2L562.4,496.7Q560.0,494.2 562.4,491.7L569.5,494.2Z" fill="#1a0000"/>
<line x1="546.0" y1="508.0" x2="562.0" y2="508.0" stroke="#700000" stroke-width="1.0"/>
<path d="M569.5,508.0L562.4,510.5Q560.0,508.0 562.4,505.5L569.5,508.0Z" fill="#1a0000"/>
<line x1="546.0" y1="521.8" x2="562.0" y2="521.8" stroke="#700000" stroke-width="1.0"/>
<path d="M569.5,521.8L562.4,524.3Q560.0,521.8 562.4,519.3L569.5,521.8Z" fill="#1a0000"/>
<line x1="546.0" y1="535.6" x2="562.0" y2="535.6" stroke="#700000" stroke-width="1.0"/>
<path d="M569.5,535.6L562.4,538.1Q560.0,535.6 562.4,533.1L569.5,535.6Z" fill="#1a0000"/>
<line x1="546.0" y1="549.4" x2="562.0" y2="549.4" stroke="#700000" stroke-width="1.0"/>
<path d="M569.5,549.4L562.4,551.9Q560.0,549.4 562.4,546.9L569.5,549.4Z" fill="#1a0000"/>
<line x1="575.2" y1="452.8" x2="591.2" y2="452.8" stroke="#700000" stroke-width="1.0"/>
<path d="M598.8,452.8L591.6,455.3Q589.2,452.8 591.6,450.3L598.8,452.8Z" fill="#1a0000"/>
<line x1="575.2" y1="466.6" x2="591.2" y2="466.6" stroke="#700000" stroke-width="1.0"/>
<path d="M598.8,466.6L591.6,469.1Q589.2,466.6 591.6,464.1L598.8,466.6Z" fill="#1a0000"/>
<line x1="575.2" y1="480.4" x2="591.2" y2="480.4" stroke="#700000" stroke-width="1.0"/>
<path d="M598.8,480.4L591.6,482.9Q589.2,480.4 591.6,477.9L598.8,480.4Z" fill="#1a0000"/>
<line x1="575.2" y1="494.2" x2="591.2" y2="494.2" stroke="#700000" stroke-width="1.0"/>
<path d="M598.8,494.2L591.6,496.7Q589.2,494.2 591.6,491.7L598.8,494.2Z" fill="#1a0000"/>
<line x1="575.2" y1="508.0" x2="591.2" y2="508.0" stroke="#700000" stroke-width="1.0"/>
<path d="M598.8,508.0L591.6,510.5Q589.2,508.0 591.6,505.5L598.8,508.0Z" fill="#1a0000"/>
<line x1="575.2" y1="521.8" x2="591.2" y2="521.8" stroke="#700000" stroke-width="1.0"/>
<path d="M598.8,521.8L591.6,524.3Q589.2,521.8 591.6,519.3L598.8,521.8Z" fill="#1a0000"/>
<line x1="575.2" y1="535.6" x2="591.2" y2="535.6" stroke="#700000" stroke-width="1.0"/>
<path d="M598.8,535.6L591.6,538.1Q589.2,535.6 591.6,533.1L598.8,535.6Z" fill="#1a0000"/>
<line x1="575.2" y1="549.4" x2="591.2" y2="549.4" stroke="#700000" stroke-width="1.0"/>
<path d="M598.8,549.4L591.6,551.9Q589.2,549.4 591.6,546.9L598.8,549.4Z" fill="#1a0000"/>
<line x1="603.9" y1="452.8" x2="619.9" y2="452.8" stroke="#700000" stroke-width="1.0"/>
<path d="M627.4,452.8L620.2,455.3Q617.9,452.8 620.2,450.3L627.4,452.8Z" fill="#1a0000"/>
<line x1="603.9" y1="466.6" x2="619.9" y2="466.6" stroke="#700000" stroke-width="1.0"/>
<path d="M627.4,466.6L620.2,469.1Q617.9,466.6 620.2,464.1L627.4,466.6Z" fill="#1a0000"/>
<line x1="603.9" y1="480.4" x2="619.9" y2="480.4" stroke="#700000" stroke-width="1.0"/>
<path d="M627.4,480.4L620.2,482.9Q617.9,480.4 620.2,477.9L627.4,480.4Z" fill="#1a0000"/>
<line x1="603.9" y1="494.2" x2="619.9" y2="494.2" stroke="#700000" stroke-width="1.0"/>
<path d="M627.4,494.2L620.2,496.7Q617.9,494.2 620.2,491.7L627.4,494.2Z" fill="#1a0000"/>
<line x1="603.9" y1="508.0" x2="619.9" y2="508.0" stroke="#700000" stroke-width="1.0"/>
<path d="M627.4,508.0L620.2,510.5Q617.9,508.0 620.2,505.5L627.4,508.0Z" fill="#1a0000"/>
<line x1="603.9" y1="521.8" x2="619.9" y2="521.8" stroke="#700000" stroke-width="1.0"/>
<path d="M627.4,521.8L620.2,524.3Q617.9,521.8 620.2,519.3L627.4,521.8Z" fill="#1a0000"/>
<line x1="603.9" y1="535.6" x2="619.9" y2="535.6" stroke="#700000" stroke-width="1.0"/>
<path d="M627.4,535.6L620.2,538.1Q617.9,535.6 620.2,533.1L627.4,535.6Z" fill="#1a0000"/>
<line x1="603.9" y1="549.4" x2="619.9" y2="549.4" stroke="#700000" stroke-width="1.0"/>
<path d="M627.4,549.4L620.2,551.9Q617.9,549.4 620.2,546.9L627.4,549.4Z" fill="#1a0000"/>
<line x1="634.7" y1="454.8" x2="648.9" y2="452.2" stroke="#700000" stroke-width="1.0"/>
<path d="M656.3,450.8L649.8,454.5Q647.0,452.5 648.8,449.6L656.3,450.8Z" fill="#1a0000"/>
<line x1="634.7" y1="468.9" x2="648.9" y2="465.9" stroke="#700000" stroke-width="1.0"/>
<path d="M656.3,464.3L649.8,468.2Q647.0,466.3 648.8,463.3L656.3,464.3Z" fill="#1a0000"/>
<line x1="634.6" y1="482.0" x2="649.0" y2="479.9" stroke="#700000" stroke-width="1.0"/>
<path d="M656.4,478.8L649.7,482.3Q647.0,480.2 649.0,477.4L656.4,478.8Z" fill="#1a0000"/>
<line x1="634.5" y1="494.4" x2="649.0" y2="494.1" stroke="#700000" stroke-width="1.0"/>
<path d="M656.5,494.0L649.4,496.6Q647.0,494.2 649.3,491.6L656.5,494.0Z" fill="#1a0000"/>
<line x1="634.5" y1="507.8" x2="649.0" y2="508.1" stroke="#700000" stroke-width="1.0"/>
<path d="M656.5,508.2L649.3,510.6Q647.0,508.0 649.4,505.6L656.5,508.2Z" fill="#1a0000"/>
<line x1="634.6" y1="520.3" x2="649.0" y2="522.3" stroke="#700000" stroke-width="1.0"/>
<path d="M656.4,523.3L649.0,524.8Q647.0,522.0 649.7,519.9L656.4,523.3Z" fill="#1a0000"/>
<line x1="634.7" y1="533.7" x2="648.9" y2="536.2" stroke="#700000" stroke-width="1.0"/>
<path d="M656.3,537.5L648.9,538.7Q647.0,535.9 649.8,533.8L656.3,537.5Z" fill="#1a0000"/>
<line x1="634.6" y1="547.9" x2="649.0" y2="549.9" stroke="#700000" stroke-width="1.0"/>
<path d="M656.4,550.9L649.0,552.4Q647.0,549.6 649.7,547.5L656.4,550.9Z" fill="#1a0000"/>
<line x1="666.9" y1="456.7" x2="676.3" y2="452.1" stroke="#700000" stroke-width="1.0"/>
<path d="M683.1,448.9L677.8,454.2Q674.6,453.0 675.6,449.7L683.1,448.9Z" fill="#1a0000"/>
<line x1="670.0" y1="471.5" x2="675.9" y2="465.7" stroke="#700000" stroke-width="1.0"/>
<path d="M680.0,461.7L677.6,467.5Q674.5,467.1 674.1,464.0L680.0,461.7Z" fill="#1a0000"/>
<line x1="669.9" y1="485.2" x2="675.9" y2="479.5" stroke="#700000" stroke-width="1.0"/>
<path d="M680.1,475.6L677.6,481.4Q674.5,480.9 674.2,477.7L680.1,475.6Z" fill="#1a0000"/>
<line x1="666.1" y1="497.6" x2="676.9" y2="493.5" stroke="#700000" stroke-width="1.0"/>
<path d="M683.9,490.8L678.1,495.7Q675.0,494.2 676.3,491.0L683.9,490.8Z" fill="#1a0000"/>
<line x1="666.3" y1="504.8" x2="676.6" y2="508.6" stroke="#700000" stroke-width="1.0"/>
<path d="M683.7,511.2L676.1,511.1Q674.8,507.9 677.9,506.4L683.7,511.2Z" fill="#1a0000"/>
<line x1="669.9" y1="517.4" x2="676.0" y2="522.7" stroke="#700000" stroke-width="1.0"/>
<path d="M680.1,526.2L674.3,524.5Q674.5,521.4 677.5,520.7L680.1,526.2Z" fill="#1a0000"/>
<line x1="670.0" y1="531.1" x2="676.0" y2="536.5" stroke="#700000" stroke-width="1.0"/>
<path d="M680.0,540.1L674.2,538.2Q674.5,535.1 677.6,534.5L680.0,540.1Z" fill="#1a0000"/>
<line x1="667.0" y1="545.8" x2="676.1" y2="549.9" stroke="#700000" stroke-width="1.0"/>
<path d="M683.0,553.0L675.5,552.3Q674.3,549.1 677.5,547.8L683.0,553.0Z" fill="#1a0000"/>
<rect x="535.6" y="446.2" width="9.2" height="109.3" fill="#fff"/>
<path d="M538.3,440.2L535.0,453.9M546.3,440.2L543.0,453.9" stroke="#111" stroke-width="1.3"/>
<path d="M537.6,548.0L534.0,561.7M545.4,548.0L541.8,561.7" stroke="#111" stroke-width="1.3"/>
<rect x="561.7" y="448.2" width="57.0" height="26.6" fill="#fff"/>
<text x="590.2" y="468.8" font-size="23.5" text-anchor="middle" >50 Oe</text>
<rect x="398.6" y="570.8" width="137.0" height="105.1" fill="#fa0202"/>
<rect x="544.8" y="570.8" width="139.0" height="105.1" fill="#fa0202"/>
<linearGradient id="mk2_g" x1="0" y1="0" x2="0" y2="1"><stop offset="0.000" stop-color="#fff" stop-opacity="1.00"/><stop offset="0.459" stop-color="#fff" stop-opacity="0.60"/><stop offset="0.474" stop-color="#fff" stop-opacity="0.25"/><stop offset="0.526" stop-color="#fff" stop-opacity="0.25"/><stop offset="0.541" stop-color="#fff" stop-opacity="0.60"/><stop offset="1.000" stop-color="#fff" stop-opacity="1.00"/></linearGradient>
<mask id="mk2" maskUnits="userSpaceOnUse" x="390" y="570.8" width="300" height="105.1"><rect x="390" y="570.8" width="300" height="105.1" fill="url(#mk2_g)"/></mask>
<rect x="398.6" y="570.8" width="34.0" height="105.1" fill="url(#g2L)" mask="url(#mk2)"/>
<rect x="649.8" y="570.8" width="34.0" height="105.1" fill="url(#g2R)" mask="url(#mk2)"/>
<path d="M398.6,570.8H535.6M398.6,675.9H535.6M398.6,570.8V675.9" stroke="#1a0505" stroke-width="1.4" fill="none"/>
<path d="M544.8,570.8H683.8M544.8,675.9H683.8M683.8,570.8V675.9" stroke="#1a0505" stroke-width="1.4" fill="none"/>
<line x1="397.9" y1="572.1" x2="408.2" y2="576.0" stroke="#700000" stroke-width="1.0"/>
<path d="M415.3,578.7L407.7,578.5Q406.4,575.3 409.5,573.8L415.3,578.7Z" fill="#1a0000"/>
<line x1="398.2" y1="585.3" x2="408.2" y2="589.9" stroke="#700000" stroke-width="1.0"/>
<path d="M415.0,593.1L407.5,592.4Q406.4,589.1 409.6,587.8L415.0,593.1Z" fill="#1a0000"/>
<line x1="398.0" y1="599.7" x2="408.2" y2="603.6" stroke="#700000" stroke-width="1.0"/>
<path d="M415.2,606.3L407.7,606.1Q406.4,602.9 409.5,601.4L415.2,606.3Z" fill="#1a0000"/>
<line x1="397.6" y1="614.6" x2="408.3" y2="617.2" stroke="#700000" stroke-width="1.0"/>
<path d="M415.6,619.0L408.1,619.7Q406.4,616.7 409.3,614.9L415.6,619.0Z" fill="#1a0000"/>
<line x1="397.6" y1="632.6" x2="408.3" y2="630.2" stroke="#700000" stroke-width="1.0"/>
<path d="M415.6,628.6L409.2,632.6Q406.4,630.7 408.1,627.7L415.6,628.6Z" fill="#1a0000"/>
<line x1="398.0" y1="647.9" x2="408.2" y2="643.7" stroke="#700000" stroke-width="1.0"/>
<path d="M415.2,640.9L409.5,645.9Q406.4,644.5 407.6,641.3L415.2,640.9Z" fill="#1a0000"/>
<line x1="398.1" y1="661.8" x2="408.2" y2="657.5" stroke="#700000" stroke-width="1.0"/>
<path d="M415.1,654.6L409.5,659.7Q406.4,658.3 407.6,655.1L415.1,654.6Z" fill="#1a0000"/>
<line x1="397.8" y1="675.0" x2="408.3" y2="671.4" stroke="#700000" stroke-width="1.0"/>
<path d="M415.4,669.0L409.4,673.7Q406.4,672.1 407.8,669.0L415.4,669.0Z" fill="#1a0000"/>
<line x1="421.7" y1="575.4" x2="437.7" y2="575.4" stroke="#700000" stroke-width="1.0"/>
<path d="M445.2,575.4L438.1,577.9Q435.7,575.4 438.1,572.9L445.2,575.4Z" fill="#1a0000"/>
<line x1="421.7" y1="589.2" x2="437.7" y2="589.2" stroke="#700000" stroke-width="1.0"/>
<path d="M445.2,589.2L438.1,591.7Q435.7,589.2 438.1,586.7L445.2,589.2Z" fill="#1a0000"/>
<line x1="421.7" y1="603.0" x2="437.7" y2="603.0" stroke="#700000" stroke-width="1.0"/>
<path d="M445.2,603.0L438.1,605.5Q435.7,603.0 438.1,600.5L445.2,603.0Z" fill="#1a0000"/>
<line x1="421.7" y1="616.8" x2="437.7" y2="616.8" stroke="#700000" stroke-width="1.0"/>
<path d="M445.2,616.8L438.1,619.3Q435.7,616.8 438.1,614.3L445.2,616.8Z" fill="#1a0000"/>
<line x1="421.7" y1="630.6" x2="437.7" y2="630.6" stroke="#700000" stroke-width="1.0"/>
<path d="M445.2,630.6L438.1,633.1Q435.7,630.6 438.1,628.1L445.2,630.6Z" fill="#1a0000"/>
<line x1="421.7" y1="644.4" x2="437.7" y2="644.4" stroke="#700000" stroke-width="1.0"/>
<path d="M445.2,644.4L438.1,646.9Q435.7,644.4 438.1,641.9L445.2,644.4Z" fill="#1a0000"/>
<line x1="421.7" y1="658.2" x2="437.7" y2="658.2" stroke="#700000" stroke-width="1.0"/>
<path d="M445.2,658.2L438.1,660.7Q435.7,658.2 438.1,655.7L445.2,658.2Z" fill="#1a0000"/>
<line x1="421.7" y1="672.0" x2="437.7" y2="672.0" stroke="#700000" stroke-width="1.0"/>
<path d="M445.2,672.0L438.1,674.5Q435.7,672.0 438.1,669.5L445.2,672.0Z" fill="#1a0000"/>
<line x1="450.5" y1="575.4" x2="466.5" y2="575.4" stroke="#700000" stroke-width="1.0"/>
<path d="M474.0,575.4L466.9,577.9Q464.5,575.4 466.9,572.9L474.0,575.4Z" fill="#1a0000"/>
<line x1="450.5" y1="589.2" x2="466.5" y2="589.2" stroke="#700000" stroke-width="1.0"/>
<path d="M474.0,589.2L466.9,591.7Q464.5,589.2 466.9,586.7L474.0,589.2Z" fill="#1a0000"/>
<line x1="450.5" y1="603.0" x2="466.5" y2="603.0" stroke="#700000" stroke-width="1.0"/>
<path d="M474.0,603.0L466.9,605.5Q464.5,603.0 466.9,600.5L474.0,603.0Z" fill="#1a0000"/>
<line x1="450.5" y1="616.8" x2="466.5" y2="616.8" stroke="#700000" stroke-width="1.0"/>
<path d="M474.0,616.8L466.9,619.3Q464.5,616.8 466.9,614.3L474.0,616.8Z" fill="#1a0000"/>
<line x1="450.5" y1="630.6" x2="466.5" y2="630.6" stroke="#700000" stroke-width="1.0"/>
<path d="M474.0,630.6L466.9,633.1Q464.5,630.6 466.9,628.1L474.0,630.6Z" fill="#1a0000"/>
<line x1="450.5" y1="644.4" x2="466.5" y2="644.4" stroke="#700000" stroke-width="1.0"/>
<path d="M474.0,644.4L466.9,646.9Q464.5,644.4 466.9,641.9L474.0,644.4Z" fill="#1a0000"/>
<line x1="450.5" y1="658.2" x2="466.5" y2="658.2" stroke="#700000" stroke-width="1.0"/>
<path d="M474.0,658.2L466.9,660.7Q464.5,658.2 466.9,655.7L474.0,658.2Z" fill="#1a0000"/>
<line x1="450.5" y1="672.0" x2="466.5" y2="672.0" stroke="#700000" stroke-width="1.0"/>
<path d="M474.0,672.0L466.9,674.5Q464.5,672.0 466.9,669.5L474.0,672.0Z" fill="#1a0000"/>
<line x1="479.3" y1="575.4" x2="495.3" y2="575.4" stroke="#700000" stroke-width="1.0"/>
<path d="M502.8,575.4L495.7,577.9Q493.3,575.4 495.7,572.9L502.8,575.4Z" fill="#1a0000"/>
<line x1="479.3" y1="589.2" x2="495.3" y2="589.2" stroke="#700000" stroke-width="1.0"/>
<path d="M502.8,589.2L495.7,591.7Q493.3,589.2 495.7,586.7L502.8,589.2Z" fill="#1a0000"/>
<line x1="479.3" y1="603.0" x2="495.3" y2="603.0" stroke="#700000" stroke-width="1.0"/>
<path d="M502.8,603.0L495.7,605.5Q493.3,603.0 495.7,600.5L502.8,603.0Z" fill="#1a0000"/>
<line x1="479.3" y1="616.8" x2="495.3" y2="616.8" stroke="#700000" stroke-width="1.0"/>
<path d="M502.8,616.8L495.7,619.3Q493.3,616.8 495.7,614.3L502.8,616.8Z" fill="#1a0000"/>
<line x1="479.3" y1="630.6" x2="495.3" y2="630.6" stroke="#700000" stroke-width="1.0"/>
<path d="M502.8,630.6L495.7,633.1Q493.3,630.6 495.7,628.1L502.8,630.6Z" fill="#1a0000"/>
<line x1="479.3" y1="644.4" x2="495.3" y2="644.4" stroke="#700000" stroke-width="1.0"/>
<path d="M502.8,644.4L495.7,646.9Q493.3,644.4 495.7,641.9L502.8,644.4Z" fill="#1a0000"/>
<line x1="479.3" y1="658.2" x2="495.3" y2="658.2" stroke="#700000" stroke-width="1.0"/>
<path d="M502.8,658.2L495.7,660.7Q493.3,658.2 495.7,655.7L502.8,658.2Z" fill="#1a0000"/>
<line x1="479.3" y1="672.0" x2="495.3" y2="672.0" stroke="#700000" stroke-width="1.0"/>
<path d="M502.8,672.0L495.7,674.5Q493.3,672.0 495.7,669.5L502.8,672.0Z" fill="#1a0000"/>
<line x1="508.1" y1="575.4" x2="524.1" y2="575.4" stroke="#700000" stroke-width="1.0"/>
<path d="M531.6,575.4L524.5,577.9Q522.1,575.4 524.5,572.9L531.6,575.4Z" fill="#1a0000"/>
<line x1="508.1" y1="589.2" x2="524.1" y2="589.2" stroke="#700000" stroke-width="1.0"/>
<path d="M531.6,589.2L524.5,591.7Q522.1,589.2 524.5,586.7L531.6,589.2Z" fill="#1a0000"/>
<line x1="508.1" y1="603.0" x2="524.1" y2="603.0" stroke="#700000" stroke-width="1.0"/>
<path d="M531.6,603.0L524.5,605.5Q522.1,603.0 524.5,600.5L531.6,603.0Z" fill="#1a0000"/>
<line x1="508.1" y1="616.8" x2="524.1" y2="616.8" stroke="#700000" stroke-width="1.0"/>
<path d="M531.6,616.8L524.5,619.3Q522.1,616.8 524.5,614.3L531.6,616.8Z" fill="#1a0000"/>
<line x1="508.1" y1="630.6" x2="524.1" y2="630.6" stroke="#700000" stroke-width="1.0"/>
<path d="M531.6,630.6L524.5,633.1Q522.1,630.6 524.5,628.1L531.6,630.6Z" fill="#1a0000"/>
<line x1="508.1" y1="644.4" x2="524.1" y2="644.4" stroke="#700000" stroke-width="1.0"/>
<path d="M531.6,644.4L524.5,646.9Q522.1,644.4 524.5,641.9L531.6,644.4Z" fill="#1a0000"/>
<line x1="508.1" y1="658.2" x2="524.1" y2="658.2" stroke="#700000" stroke-width="1.0"/>
<path d="M531.6,658.2L524.5,660.7Q522.1,658.2 524.5,655.7L531.6,658.2Z" fill="#1a0000"/>
<line x1="508.1" y1="672.0" x2="524.1" y2="672.0" stroke="#700000" stroke-width="1.0"/>
<path d="M531.6,672.0L524.5,674.5Q522.1,672.0 524.5,669.5L531.6,672.0Z" fill="#1a0000"/>
<line x1="546.0" y1="575.4" x2="562.0" y2="575.4" stroke="#700000" stroke-width="1.0"/>
<path d="M569.5,575.4L562.4,577.9Q560.0,575.4 562.4,572.9L569.5,575.4Z" fill="#1a0000"/>
<line x1="546.0" y1="589.2" x2="562.0" y2="589.2" stroke="#700000" stroke-width="1.0"/>
<path d="M569.5,589.2L562.4,591.7Q560.0,589.2 562.4,586.7L569.5,589.2Z" fill="#1a0000"/>
<line x1="546.0" y1="603.0" x2="562.0" y2="603.0" stroke="#700000" stroke-width="1.0"/>
<path d="M569.5,603.0L562.4,605.5Q560.0,603.0 562.4,600.5L569.5,603.0Z" fill="#1a0000"/>
<line x1="546.0" y1="616.8" x2="562.0" y2="616.8" stroke="#700000" stroke-width="1.0"/>
<path d="M569.5,616.8L562.4,619.3Q560.0,616.8 562.4,614.3L569.5,616.8Z" fill="#1a0000"/>
<line x1="546.0" y1="630.6" x2="562.0" y2="630.6" stroke="#700000" stroke-width="1.0"/>
<path d="M569.5,630.6L562.4,633.1Q560.0,630.6 562.4,628.1L569.5,630.6Z" fill="#1a0000"/>
<line x1="546.0" y1="644.4" x2="562.0" y2="644.4" stroke="#700000" stroke-width="1.0"/>
<path d="M569.5,644.4L562.4,646.9Q560.0,644.4 562.4,641.9L569.5,644.4Z" fill="#1a0000"/>
<line x1="546.0" y1="658.2" x2="562.0" y2="658.2" stroke="#700000" stroke-width="1.0"/>
<path d="M569.5,658.2L562.4,660.7Q560.0,658.2 562.4,655.7L569.5,658.2Z" fill="#1a0000"/>
<line x1="546.0" y1="672.0" x2="562.0" y2="672.0" stroke="#700000" stroke-width="1.0"/>
<path d="M569.5,672.0L562.4,674.5Q560.0,672.0 562.4,669.5L569.5,672.0Z" fill="#1a0000"/>
<line x1="575.2" y1="575.4" x2="591.2" y2="575.4" stroke="#700000" stroke-width="1.0"/>
<path d="M598.8,575.4L591.6,577.9Q589.2,575.4 591.6,572.9L598.8,575.4Z" fill="#1a0000"/>
<line x1="575.2" y1="589.2" x2="591.2" y2="589.2" stroke="#700000" stroke-width="1.0"/>
<path d="M598.8,589.2L591.6,591.7Q589.2,589.2 591.6,586.7L598.8,589.2Z" fill="#1a0000"/>
<line x1="575.2" y1="603.0" x2="591.2" y2="603.0" stroke="#700000" stroke-width="1.0"/>
<path d="M598.8,603.0L591.6,605.5Q589.2,603.0 591.6,600.5L598.8,603.0Z" fill="#1a0000"/>
<line x1="575.2" y1="616.8" x2="591.2" y2="616.8" stroke="#700000" stroke-width="1.0"/>
<path d="M598.8,616.8L591.6,619.3Q589.2,616.8 591.6,614.3L598.8,616.8Z" fill="#1a0000"/>
<line x1="575.2" y1="630.6" x2="591.2" y2="630.6" stroke="#700000" stroke-width="1.0"/>
<path d="M598.8,630.6L591.6,633.1Q589.2,630.6 591.6,628.1L598.8,630.6Z" fill="#1a0000"/>
<line x1="575.2" y1="644.4" x2="591.2" y2="644.4" stroke="#700000" stroke-width="1.0"/>
<path d="M598.8,644.4L591.6,646.9Q589.2,644.4 591.6,641.9L598.8,644.4Z" fill="#1a0000"/>
<line x1="575.2" y1="658.2" x2="591.2" y2="658.2" stroke="#700000" stroke-width="1.0"/>
<path d="M598.8,658.2L591.6,660.7Q589.2,658.2 591.6,655.7L598.8,658.2Z" fill="#1a0000"/>
<line x1="575.2" y1="672.0" x2="591.2" y2="672.0" stroke="#700000" stroke-width="1.0"/>
<path d="M598.8,672.0L591.6,674.5Q589.2,672.0 591.6,669.5L598.8,672.0Z" fill="#1a0000"/>
<line x1="603.9" y1="575.4" x2="619.9" y2="575.4" stroke="#700000" stroke-width="1.0"/>
<path d="M627.4,575.4L620.2,577.9Q617.9,575.4 620.2,572.9L627.4,575.4Z" fill="#1a0000"/>
<line x1="603.9" y1="589.2" x2="619.9" y2="589.2" stroke="#700000" stroke-width="1.0"/>
<path d="M627.4,589.2L620.2,591.7Q617.9,589.2 620.2,586.7L627.4,589.2Z" fill="#1a0000"/>
<line x1="603.9" y1="603.0" x2="619.9" y2="603.0" stroke="#700000" stroke-width="1.0"/>
<path d="M627.4,603.0L620.2,605.5Q617.9,603.0 620.2,600.5L627.4,603.0Z" fill="#1a0000"/>
<line x1="603.9" y1="616.8" x2="619.9" y2="616.8" stroke="#700000" stroke-width="1.0"/>
<path d="M627.4,616.8L620.2,619.3Q617.9,616.8 620.2,614.3L627.4,616.8Z" fill="#1a0000"/>
<line x1="603.9" y1="630.6" x2="619.9" y2="630.6" stroke="#700000" stroke-width="1.0"/>
<path d="M627.4,630.6L620.2,633.1Q617.9,630.6 620.2,628.1L627.4,630.6Z" fill="#1a0000"/>
<line x1="603.9" y1="644.4" x2="619.9" y2="644.4" stroke="#700000" stroke-width="1.0"/>
<path d="M627.4,644.4L620.2,646.9Q617.9,644.4 620.2,641.9L627.4,644.4Z" fill="#1a0000"/>
<line x1="603.9" y1="658.2" x2="619.9" y2="658.2" stroke="#700000" stroke-width="1.0"/>
<path d="M627.4,658.2L620.2,660.7Q617.9,658.2 620.2,655.7L627.4,658.2Z" fill="#1a0000"/>
<line x1="603.9" y1="672.0" x2="619.9" y2="672.0" stroke="#700000" stroke-width="1.0"/>
<path d="M627.4,672.0L620.2,674.5Q617.9,672.0 620.2,669.5L627.4,672.0Z" fill="#1a0000"/>
<line x1="634.5" y1="575.9" x2="649.4" y2="575.2" stroke="#700000" stroke-width="1.0"/>
<path d="M656.9,574.9L649.9,577.7Q647.4,575.3 649.7,572.7L656.9,574.9Z" fill="#1a0000"/>
<line x1="634.5" y1="589.7" x2="649.4" y2="589.0" stroke="#700000" stroke-width="1.0"/>
<path d="M656.9,588.7L649.9,591.5Q647.4,589.1 649.7,586.5L656.9,588.7Z" fill="#1a0000"/>
<line x1="634.5" y1="603.2" x2="649.4" y2="602.9" stroke="#700000" stroke-width="1.0"/>
<path d="M656.9,602.8L649.9,605.4Q647.4,603.0 649.8,600.4L656.9,602.8Z" fill="#1a0000"/>
<line x1="634.5" y1="616.8" x2="649.5" y2="616.8" stroke="#700000" stroke-width="1.0"/>
<path d="M657.0,616.8L649.8,619.3Q647.5,616.8 649.8,614.3L657.0,616.8Z" fill="#1a0000"/>
<line x1="634.5" y1="630.6" x2="649.5" y2="630.6" stroke="#700000" stroke-width="1.0"/>
<path d="M657.0,630.6L649.8,633.1Q647.5,630.6 649.8,628.1L657.0,630.6Z" fill="#1a0000"/>
<line x1="634.5" y1="644.2" x2="649.4" y2="644.5" stroke="#700000" stroke-width="1.0"/>
<path d="M656.9,644.6L649.8,647.0Q647.4,644.4 649.9,642.0L656.9,644.6Z" fill="#1a0000"/>
<line x1="634.5" y1="657.7" x2="649.4" y2="658.4" stroke="#700000" stroke-width="1.0"/>
<path d="M656.9,658.7L649.7,660.9Q647.4,658.3 649.9,655.9L656.9,658.7Z" fill="#1a0000"/>
<line x1="634.5" y1="671.5" x2="649.4" y2="672.2" stroke="#700000" stroke-width="1.0"/>
<path d="M656.9,672.5L649.7,674.7Q647.4,672.1 649.9,669.7L656.9,672.5Z" fill="#1a0000"/>
<line x1="665.9" y1="578.2" x2="676.1" y2="574.9" stroke="#700000" stroke-width="1.0"/>
<path d="M683.3,572.6L677.3,577.2Q674.2,575.5 675.7,572.4L683.3,572.6Z" fill="#1a0000"/>
<line x1="666.4" y1="593.0" x2="676.1" y2="588.5" stroke="#700000" stroke-width="1.0"/>
<path d="M682.8,585.4L677.4,590.6Q674.2,589.4 675.3,586.1L682.8,585.4Z" fill="#1a0000"/>
<line x1="666.4" y1="606.8" x2="676.1" y2="602.3" stroke="#700000" stroke-width="1.0"/>
<path d="M682.8,599.2L677.4,604.4Q674.2,603.2 675.3,599.9L682.8,599.2Z" fill="#1a0000"/>
<line x1="665.8" y1="619.2" x2="676.1" y2="616.4" stroke="#700000" stroke-width="1.0"/>
<path d="M683.4,614.4L677.2,618.7Q674.2,616.9 675.9,613.9L683.4,614.4Z" fill="#1a0000"/>
<line x1="665.7" y1="628.7" x2="676.2" y2="630.9" stroke="#700000" stroke-width="1.0"/>
<path d="M683.5,632.5L676.0,633.5Q674.2,630.5 677.1,628.6L683.5,632.5Z" fill="#1a0000"/>
<line x1="666.5" y1="640.3" x2="676.0" y2="645.1" stroke="#700000" stroke-width="1.0"/>
<path d="M682.7,648.5L675.2,647.5Q674.2,644.2 677.5,643.1L682.7,648.5Z" fill="#1a0000"/>
<line x1="666.4" y1="654.4" x2="676.1" y2="658.9" stroke="#700000" stroke-width="1.0"/>
<path d="M682.8,662.0L675.3,661.3Q674.2,658.0 677.4,656.8L682.8,662.0Z" fill="#1a0000"/>
<line x1="666.0" y1="669.0" x2="676.1" y2="672.5" stroke="#700000" stroke-width="1.0"/>
<path d="M683.2,675.0L675.7,675.0Q674.2,671.9 677.3,670.3L683.2,675.0Z" fill="#1a0000"/>
<rect x="535.6" y="568.8" width="9.2" height="109.1" fill="#fff"/>
<path d="M538.3,562.8L535.0,576.5M546.3,562.8L543.0,576.5" stroke="#111" stroke-width="1.3"/>
<path d="M537.6,670.4L534.0,684.1M545.4,670.4L541.8,684.1" stroke="#111" stroke-width="1.3"/>
<rect x="556.3" y="570.8" width="68.9" height="26.0" fill="#fff"/>
<text x="590.8" y="590.8" font-size="23.5" text-anchor="middle" >400 Oe</text>
<rect x="398.6" y="692.8" width="137.0" height="105.7" fill="#fa0202"/>
<rect x="544.8" y="692.8" width="139.0" height="105.7" fill="#fa0202"/>
<linearGradient id="mk3_g" x1="0" y1="0" x2="0" y2="1"><stop offset="0.000" stop-color="#fff" stop-opacity="1.00"/><stop offset="0.459" stop-color="#fff" stop-opacity="0.60"/><stop offset="0.474" stop-color="#fff" stop-opacity="0.25"/><stop offset="0.526" stop-color="#fff" stop-opacity="0.25"/><stop offset="0.541" stop-color="#fff" stop-opacity="0.60"/><stop offset="1.000" stop-color="#fff" stop-opacity="1.00"/></linearGradient>
<mask id="mk3" maskUnits="userSpaceOnUse" x="390" y="692.8" width="300" height="105.7"><rect x="390" y="692.8" width="300" height="105.7" fill="url(#mk3_g)"/></mask>
<rect x="398.6" y="692.8" width="14.0" height="105.7" fill="url(#g3L)"/>
<rect x="669.8" y="692.8" width="14.0" height="105.7" fill="url(#g3R)"/>
<path d="M398.6,692.8H535.6M398.6,798.5H535.6M398.6,692.8V798.5" stroke="#1a0505" stroke-width="1.4" fill="none"/>
<path d="M544.8,692.8H683.8M544.8,798.5H683.8M683.8,692.8V798.5" stroke="#1a0505" stroke-width="1.4" fill="none"/>
<line x1="396.9" y1="697.4" x2="408.9" y2="697.4" stroke="#700000" stroke-width="1.0"/>
<path d="M416.4,697.4L409.2,699.9Q406.9,697.4 409.2,694.9L416.4,697.4Z" fill="#1a0000"/>
<line x1="396.9" y1="711.2" x2="408.9" y2="711.2" stroke="#700000" stroke-width="1.0"/>
<path d="M416.4,711.2L409.2,713.7Q406.9,711.2 409.2,708.7L416.4,711.2Z" fill="#1a0000"/>
<line x1="396.9" y1="725.0" x2="408.9" y2="725.0" stroke="#700000" stroke-width="1.0"/>
<path d="M416.4,725.0L409.2,727.5Q406.9,725.0 409.2,722.5L416.4,725.0Z" fill="#1a0000"/>
<line x1="396.9" y1="738.8" x2="408.9" y2="738.8" stroke="#700000" stroke-width="1.0"/>
<path d="M416.4,738.8L409.2,741.3Q406.9,738.8 409.2,736.3L416.4,738.8Z" fill="#1a0000"/>
<line x1="396.9" y1="752.6" x2="408.9" y2="752.6" stroke="#700000" stroke-width="1.0"/>
<path d="M416.4,752.6L409.2,755.1Q406.9,752.6 409.2,750.1L416.4,752.6Z" fill="#1a0000"/>
<line x1="396.9" y1="766.4" x2="408.9" y2="766.4" stroke="#700000" stroke-width="1.0"/>
<path d="M416.4,766.4L409.2,768.9Q406.9,766.4 409.2,763.9L416.4,766.4Z" fill="#1a0000"/>
<line x1="396.9" y1="780.2" x2="408.9" y2="780.2" stroke="#700000" stroke-width="1.0"/>
<path d="M416.4,780.2L409.2,782.7Q406.9,780.2 409.2,777.7L416.4,780.2Z" fill="#1a0000"/>
<line x1="396.9" y1="794.0" x2="408.9" y2="794.0" stroke="#700000" stroke-width="1.0"/>
<path d="M416.4,794.0L409.2,796.5Q406.9,794.0 409.2,791.5L416.4,794.0Z" fill="#1a0000"/>
<line x1="421.7" y1="697.4" x2="437.7" y2="697.4" stroke="#700000" stroke-width="1.0"/>
<path d="M445.2,697.4L438.1,699.9Q435.7,697.4 438.1,694.9L445.2,697.4Z" fill="#1a0000"/>
<line x1="421.7" y1="711.2" x2="437.7" y2="711.2" stroke="#700000" stroke-width="1.0"/>
<path d="M445.2,711.2L438.1,713.7Q435.7,711.2 438.1,708.7L445.2,711.2Z" fill="#1a0000"/>
<line x1="421.7" y1="725.0" x2="437.7" y2="725.0" stroke="#700000" stroke-width="1.0"/>
<path d="M445.2,725.0L438.1,727.5Q435.7,725.0 438.1,722.5L445.2,725.0Z" fill="#1a0000"/>
<line x1="421.7" y1="738.8" x2="437.7" y2="738.8" stroke="#700000" stroke-width="1.0"/>
<path d="M445.2,738.8L438.1,741.3Q435.7,738.8 438.1,736.3L445.2,738.8Z" fill="#1a0000"/>
<line x1="421.7" y1="752.6" x2="437.7" y2="752.6" stroke="#700000" stroke-width="1.0"/>
<path d="M445.2,752.6L438.1,755.1Q435.7,752.6 438.1,750.1L445.2,752.6Z" fill="#1a0000"/>
<line x1="421.7" y1="766.4" x2="437.7" y2="766.4" stroke="#700000" stroke-width="1.0"/>
<path d="M445.2,766.4L438.1,768.9Q435.7,766.4 438.1,763.9L445.2,766.4Z" fill="#1a0000"/>
<line x1="421.7" y1="780.2" x2="437.7" y2="780.2" stroke="#700000" stroke-width="1.0"/>
<path d="M445.2,780.2L438.1,782.7Q435.7,780.2 438.1,777.7L445.2,780.2Z" fill="#1a0000"/>
<line x1="421.7" y1="794.0" x2="437.7" y2="794.0" stroke="#700000" stroke-width="1.0"/>
<path d="M445.2,794.0L438.1,796.5Q435.7,794.0 438.1,791.5L445.2,794.0Z" fill="#1a0000"/>
<line x1="450.5" y1="697.4" x2="466.5" y2="697.4" stroke="#700000" stroke-width="1.0"/>
<path d="M474.0,697.4L466.9,699.9Q464.5,697.4 466.9,694.9L474.0,697.4Z" fill="#1a0000"/>
<line x1="450.5" y1="711.2" x2="466.5" y2="711.2" stroke="#700000" stroke-width="1.0"/>
<path d="M474.0,711.2L466.9,713.7Q464.5,711.2 466.9,708.7L474.0,711.2Z" fill="#1a0000"/>
<line x1="450.5" y1="725.0" x2="466.5" y2="725.0" stroke="#700000" stroke-width="1.0"/>
<path d="M474.0,725.0L466.9,727.5Q464.5,725.0 466.9,722.5L474.0,725.0Z" fill="#1a0000"/>
<line x1="450.5" y1="738.8" x2="466.5" y2="738.8" stroke="#700000" stroke-width="1.0"/>
<path d="M474.0,738.8L466.9,741.3Q464.5,738.8 466.9,736.3L474.0,738.8Z" fill="#1a0000"/>
<line x1="450.5" y1="752.6" x2="466.5" y2="752.6" stroke="#700000" stroke-width="1.0"/>
<path d="M474.0,752.6L466.9,755.1Q464.5,752.6 466.9,750.1L474.0,752.6Z" fill="#1a0000"/>
<line x1="450.5" y1="766.4" x2="466.5" y2="766.4" stroke="#700000" stroke-width="1.0"/>
<path d="M474.0,766.4L466.9,768.9Q464.5,766.4 466.9,763.9L474.0,766.4Z" fill="#1a0000"/>
<line x1="450.5" y1="780.2" x2="466.5" y2="780.2" stroke="#700000" stroke-width="1.0"/>
<path d="M474.0,780.2L466.9,782.7Q464.5,780.2 466.9,777.7L474.0,780.2Z" fill="#1a0000"/>
<line x1="450.5" y1="794.0" x2="466.5" y2="794.0" stroke="#700000" stroke-width="1.0"/>
<path d="M474.0,794.0L466.9,796.5Q464.5,794.0 466.9,791.5L474.0,794.0Z" fill="#1a0000"/>
<line x1="479.3" y1="697.4" x2="495.3" y2="697.4" stroke="#700000" stroke-width="1.0"/>
<path d="M502.8,697.4L495.7,699.9Q493.3,697.4 495.7,694.9L502.8,697.4Z" fill="#1a0000"/>
<line x1="479.3" y1="711.2" x2="495.3" y2="711.2" stroke="#700000" stroke-width="1.0"/>
<path d="M502.8,711.2L495.7,713.7Q493.3,711.2 495.7,708.7L502.8,711.2Z" fill="#1a0000"/>
<line x1="479.3" y1="725.0" x2="495.3" y2="725.0" stroke="#700000" stroke-width="1.0"/>
<path d="M502.8,725.0L495.7,727.5Q493.3,725.0 495.7,722.5L502.8,725.0Z" fill="#1a0000"/>
<line x1="479.3" y1="738.8" x2="495.3" y2="738.8" stroke="#700000" stroke-width="1.0"/>
<path d="M502.8,738.8L495.7,741.3Q493.3,738.8 495.7,736.3L502.8,738.8Z" fill="#1a0000"/>
<line x1="479.3" y1="752.6" x2="495.3" y2="752.6" stroke="#700000" stroke-width="1.0"/>
<path d="M502.8,752.6L495.7,755.1Q493.3,752.6 495.7,750.1L502.8,752.6Z" fill="#1a0000"/>
<line x1="479.3" y1="766.4" x2="495.3" y2="766.4" stroke="#700000" stroke-width="1.0"/>
<path d="M502.8,766.4L495.7,768.9Q493.3,766.4 495.7,763.9L502.8,766.4Z" fill="#1a0000"/>
<line x1="479.3" y1="780.2" x2="495.3" y2="780.2" stroke="#700000" stroke-width="1.0"/>
<path d="M502.8,780.2L495.7,782.7Q493.3,780.2 495.7,777.7L502.8,780.2Z" fill="#1a0000"/>
<line x1="479.3" y1="794.0" x2="495.3" y2="794.0" stroke="#700000" stroke-width="1.0"/>
<path d="M502.8,794.0L495.7,796.5Q493.3,794.0 495.7,791.5L502.8,794.0Z" fill="#1a0000"/>
<line x1="508.1" y1="697.4" x2="524.1" y2="697.4" stroke="#700000" stroke-width="1.0"/>
<path d="M531.6,697.4L524.5,699.9Q522.1,697.4 524.5,694.9L531.6,697.4Z" fill="#1a0000"/>
<line x1="508.1" y1="711.2" x2="524.1" y2="711.2" stroke="#700000" stroke-width="1.0"/>
<path d="M531.6,711.2L524.5,713.7Q522.1,711.2 524.5,708.7L531.6,711.2Z" fill="#1a0000"/>
<line x1="508.1" y1="725.0" x2="524.1" y2="725.0" stroke="#700000" stroke-width="1.0"/>
<path d="M531.6,725.0L524.5,727.5Q522.1,725.0 524.5,722.5L531.6,725.0Z" fill="#1a0000"/>
<line x1="508.1" y1="738.8" x2="524.1" y2="738.8" stroke="#700000" stroke-width="1.0"/>
<path d="M531.6,738.8L524.5,741.3Q522.1,738.8 524.5,736.3L531.6,738.8Z" fill="#1a0000"/>
<line x1="508.1" y1="752.6" x2="524.1" y2="752.6" stroke="#700000" stroke-width="1.0"/>
<path d="M531.6,752.6L524.5,755.1Q522.1,752.6 524.5,750.1L531.6,752.6Z" fill="#1a0000"/>
<line x1="508.1" y1="766.4" x2="524.1" y2="766.4" stroke="#700000" stroke-width="1.0"/>
<path d="M531.6,766.4L524.5,768.9Q522.1,766.4 524.5,763.9L531.6,766.4Z" fill="#1a0000"/>
<line x1="508.1" y1="780.2" x2="524.1" y2="780.2" stroke="#700000" stroke-width="1.0"/>
<path d="M531.6,780.2L524.5,782.7Q522.1,780.2 524.5,777.7L531.6,780.2Z" fill="#1a0000"/>
<line x1="508.1" y1="794.0" x2="524.1" y2="794.0" stroke="#700000" stroke-width="1.0"/>
<path d="M531.6,794.0L524.5,796.5Q522.1,794.0 524.5,791.5L531.6,794.0Z" fill="#1a0000"/>
<line x1="546.0" y1="697.4" x2="562.0" y2="697.4" stroke="#700000" stroke-width="1.0"/>
<path d="M569.5,697.4L562.4,699.9Q560.0,697.4 562.4,694.9L569.5,697.4Z" fill="#1a0000"/>
<line x1="546.0" y1="711.2" x2="562.0" y2="711.2" stroke="#700000" stroke-width="1.0"/>
<path d="M569.5,711.2L562.4,713.7Q560.0,711.2 562.4,708.7L569.5,711.2Z" fill="#1a0000"/>
<line x1="546.0" y1="725.0" x2="562.0" y2="725.0" stroke="#700000" stroke-width="1.0"/>
<path d="M569.5,725.0L562.4,727.5Q560.0,725.0 562.4,722.5L569.5,725.0Z" fill="#1a0000"/>
<line x1="546.0" y1="738.8" x2="562.0" y2="738.8" stroke="#700000" stroke-width="1.0"/>
<path d="M569.5,738.8L562.4,741.3Q560.0,738.8 562.4,736.3L569.5,738.8Z" fill="#1a0000"/>
<line x1="546.0" y1="752.6" x2="562.0" y2="752.6" stroke="#700000" stroke-width="1.0"/>
<path d="M569.5,752.6L562.4,755.1Q560.0,752.6 562.4,750.1L569.5,752.6Z" fill="#1a0000"/>
<line x1="546.0" y1="766.4" x2="562.0" y2="766.4" stroke="#700000" stroke-width="1.0"/>
<path d="M569.5,766.4L562.4,768.9Q560.0,766.4 562.4,763.9L569.5,766.4Z" fill="#1a0000"/>
<line x1="546.0" y1="780.2" x2="562.0" y2="780.2" stroke="#700000" stroke-width="1.0"/>
<path d="M569.5,780.2L562.4,782.7Q560.0,780.2 562.4,777.7L569.5,780.2Z" fill="#1a0000"/>
<line x1="546.0" y1="794.0" x2="562.0" y2="794.0" stroke="#700000" stroke-width="1.0"/>
<path d="M569.5,794.0L562.4,796.5Q560.0,794.0 562.4,791.5L569.5,794.0Z" fill="#1a0000"/>
<line x1="575.2" y1="697.4" x2="591.2" y2="697.4" stroke="#700000" stroke-width="1.0"/>
<path d="M598.8,697.4L591.6,699.9Q589.2,697.4 591.6,694.9L598.8,697.4Z" fill="#1a0000"/>
<line x1="575.2" y1="711.2" x2="591.2" y2="711.2" stroke="#700000" stroke-width="1.0"/>
<path d="M598.8,711.2L591.6,713.7Q589.2,711.2 591.6,708.7L598.8,711.2Z" fill="#1a0000"/>
<line x1="575.2" y1="725.0" x2="591.2" y2="725.0" stroke="#700000" stroke-width="1.0"/>
<path d="M598.8,725.0L591.6,727.5Q589.2,725.0 591.6,722.5L598.8,725.0Z" fill="#1a0000"/>
<line x1="575.2" y1="738.8" x2="591.2" y2="738.8" stroke="#700000" stroke-width="1.0"/>
<path d="M598.8,738.8L591.6,741.3Q589.2,738.8 591.6,736.3L598.8,738.8Z" fill="#1a0000"/>
<line x1="575.2" y1="752.6" x2="591.2" y2="752.6" stroke="#700000" stroke-width="1.0"/>
<path d="M598.8,752.6L591.6,755.1Q589.2,752.6 591.6,750.1L598.8,752.6Z" fill="#1a0000"/>
<line x1="575.2" y1="766.4" x2="591.2" y2="766.4" stroke="#700000" stroke-width="1.0"/>
<path d="M598.8,766.4L591.6,768.9Q589.2,766.4 591.6,763.9L598.8,766.4Z" fill="#1a0000"/>
<line x1="575.2" y1="780.2" x2="591.2" y2="780.2" stroke="#700000" stroke-width="1.0"/>
<path d="M598.8,780.2L591.6,782.7Q589.2,780.2 591.6,777.7L598.8,780.2Z" fill="#1a0000"/>
<line x1="575.2" y1="794.0" x2="591.2" y2="794.0" stroke="#700000" stroke-width="1.0"/>
<path d="M598.8,794.0L591.6,796.5Q589.2,794.0 591.6,791.5L598.8,794.0Z" fill="#1a0000"/>
<line x1="603.9" y1="697.4" x2="619.9" y2="697.4" stroke="#700000" stroke-width="1.0"/>
<path d="M627.4,697.4L620.2,699.9Q617.9,697.4 620.2,694.9L627.4,697.4Z" fill="#1a0000"/>
<line x1="603.9" y1="711.2" x2="619.9" y2="711.2" stroke="#700000" stroke-width="1.0"/>
<path d="M627.4,711.2L620.2,713.7Q617.9,711.2 620.2,708.7L627.4,711.2Z" fill="#1a0000"/>
<line x1="603.9" y1="725.0" x2="619.9" y2="725.0" stroke="#700000" stroke-width="1.0"/>
<path d="M627.4,725.0L620.2,727.5Q617.9,725.0 620.2,722.5L627.4,725.0Z" fill="#1a0000"/>
<line x1="603.9" y1="738.8" x2="619.9" y2="738.8" stroke="#700000" stroke-width="1.0"/>
<path d="M627.4,738.8L620.2,741.3Q617.9,738.8 620.2,736.3L627.4,738.8Z" fill="#1a0000"/>
<line x1="603.9" y1="752.6" x2="619.9" y2="752.6" stroke="#700000" stroke-width="1.0"/>
<path d="M627.4,752.6L620.2,755.1Q617.9,752.6 620.2,750.1L627.4,752.6Z" fill="#1a0000"/>
<line x1="603.9" y1="766.4" x2="619.9" y2="766.4" stroke="#700000" stroke-width="1.0"/>
<path d="M627.4,766.4L620.2,768.9Q617.9,766.4 620.2,763.9L627.4,766.4Z" fill="#1a0000"/>
<line x1="603.9" y1="780.2" x2="619.9" y2="780.2" stroke="#700000" stroke-width="1.0"/>
<path d="M627.4,780.2L620.2,782.7Q617.9,780.2 620.2,777.7L627.4,780.2Z" fill="#1a0000"/>
<line x1="603.9" y1="794.0" x2="619.9" y2="794.0" stroke="#700000" stroke-width="1.0"/>
<path d="M627.4,794.0L620.2,796.5Q617.9,794.0 620.2,791.5L627.4,794.0Z" fill="#1a0000"/>
<line x1="632.8" y1="697.4" x2="648.8" y2="697.4" stroke="#700000" stroke-width="1.0"/>
<path d="M656.2,697.4L649.1,699.9Q646.8,697.4 649.1,694.9L656.2,697.4Z" fill="#1a0000"/>
<line x1="632.8" y1="711.2" x2="648.8" y2="711.2" stroke="#700000" stroke-width="1.0"/>
<path d="M656.2,711.2L649.1,713.7Q646.8,711.2 649.1,708.7L656.2,711.2Z" fill="#1a0000"/>
<line x1="632.8" y1="725.0" x2="648.8" y2="725.0" stroke="#700000" stroke-width="1.0"/>
<path d="M656.2,725.0L649.1,727.5Q646.8,725.0 649.1,722.5L656.2,725.0Z" fill="#1a0000"/>
<line x1="632.8" y1="738.8" x2="648.8" y2="738.8" stroke="#700000" stroke-width="1.0"/>
<path d="M656.2,738.8L649.1,741.3Q646.8,738.8 649.1,736.3L656.2,738.8Z" fill="#1a0000"/>
<line x1="632.8" y1="752.6" x2="648.8" y2="752.6" stroke="#700000" stroke-width="1.0"/>
<path d="M656.2,752.6L649.1,755.1Q646.8,752.6 649.1,750.1L656.2,752.6Z" fill="#1a0000"/>
<line x1="632.8" y1="766.4" x2="648.8" y2="766.4" stroke="#700000" stroke-width="1.0"/>
<path d="M656.2,766.4L649.1,768.9Q646.8,766.4 649.1,763.9L656.2,766.4Z" fill="#1a0000"/>
<line x1="632.8" y1="780.2" x2="648.8" y2="780.2" stroke="#700000" stroke-width="1.0"/>
<path d="M656.2,780.2L649.1,782.7Q646.8,780.2 649.1,777.7L656.2,780.2Z" fill="#1a0000"/>
<line x1="632.8" y1="794.0" x2="648.8" y2="794.0" stroke="#700000" stroke-width="1.0"/>
<path d="M656.2,794.0L649.1,796.5Q646.8,794.0 649.1,791.5L656.2,794.0Z" fill="#1a0000"/>
<line x1="659.5" y1="697.4" x2="675.5" y2="697.4" stroke="#700000" stroke-width="1.0"/>
<path d="M683.0,697.4L675.9,699.9Q673.5,697.4 675.9,694.9L683.0,697.4Z" fill="#1a0000"/>
<line x1="659.5" y1="711.2" x2="675.5" y2="711.2" stroke="#700000" stroke-width="1.0"/>
<path d="M683.0,711.2L675.9,713.7Q673.5,711.2 675.9,708.7L683.0,711.2Z" fill="#1a0000"/>
<line x1="659.5" y1="725.0" x2="675.5" y2="725.0" stroke="#700000" stroke-width="1.0"/>
<path d="M683.0,725.0L675.9,727.5Q673.5,725.0 675.9,722.5L683.0,725.0Z" fill="#1a0000"/>
<line x1="659.5" y1="738.8" x2="675.5" y2="738.8" stroke="#700000" stroke-width="1.0"/>
<path d="M683.0,738.8L675.9,741.3Q673.5,738.8 675.9,736.3L683.0,738.8Z" fill="#1a0000"/>
<line x1="659.5" y1="752.6" x2="675.5" y2="752.6" stroke="#700000" stroke-width="1.0"/>
<path d="M683.0,752.6L675.9,755.1Q673.5,752.6 675.9,750.1L683.0,752.6Z" fill="#1a0000"/>
<line x1="659.5" y1="766.4" x2="675.5" y2="766.4" stroke="#700000" stroke-width="1.0"/>
<path d="M683.0,766.4L675.9,768.9Q673.5,766.4 675.9,763.9L683.0,766.4Z" fill="#1a0000"/>
<line x1="659.5" y1="780.2" x2="675.5" y2="780.2" stroke="#700000" stroke-width="1.0"/>
<path d="M683.0,780.2L675.9,782.7Q673.5,780.2 675.9,777.7L683.0,780.2Z" fill="#1a0000"/>
<line x1="659.5" y1="794.0" x2="675.5" y2="794.0" stroke="#700000" stroke-width="1.0"/>
<path d="M683.0,794.0L675.9,796.5Q673.5,794.0 675.9,791.5L683.0,794.0Z" fill="#1a0000"/>
<rect x="535.6" y="690.8" width="9.2" height="109.7" fill="#fff"/>
<path d="M538.3,684.8L535.0,698.5M546.3,684.8L543.0,698.5" stroke="#111" stroke-width="1.3"/>
<path d="M537.6,793.0L534.0,806.7M545.4,793.0L541.8,806.7" stroke="#111" stroke-width="1.3"/>
<rect x="552.6" y="692.8" width="81.0" height="26.9" fill="#fff"/>
<text x="593.1" y="713.7" font-size="23.5" text-anchor="middle" >1600 Oe</text>
<rect x="497.1" y="606.2" width="78.3" height="34.2" fill="#fff"/>
<text x="538.4" y="626.2" font-size="23.5" text-anchor="middle" >0.5b</text>
<line x1="511.3" y1="619.0" x2="511.3" y2="637.5" stroke="#111" stroke-width="1.80"/>
<line x1="564.0" y1="619.0" x2="564.0" y2="637.5" stroke="#111" stroke-width="1.80"/>
<line x1="520.0" y1="631.3" x2="555.0" y2="631.3" stroke="#111" stroke-width="1.60"/>
<path d="M512.5,631.3 L523.5,627.3 L523.5,635.3 Z" fill="#111"/>
<path d="M562.8,631.3 L551.8,627.3 L551.8,635.3 Z" fill="#111"/>
</svg></body></html>
